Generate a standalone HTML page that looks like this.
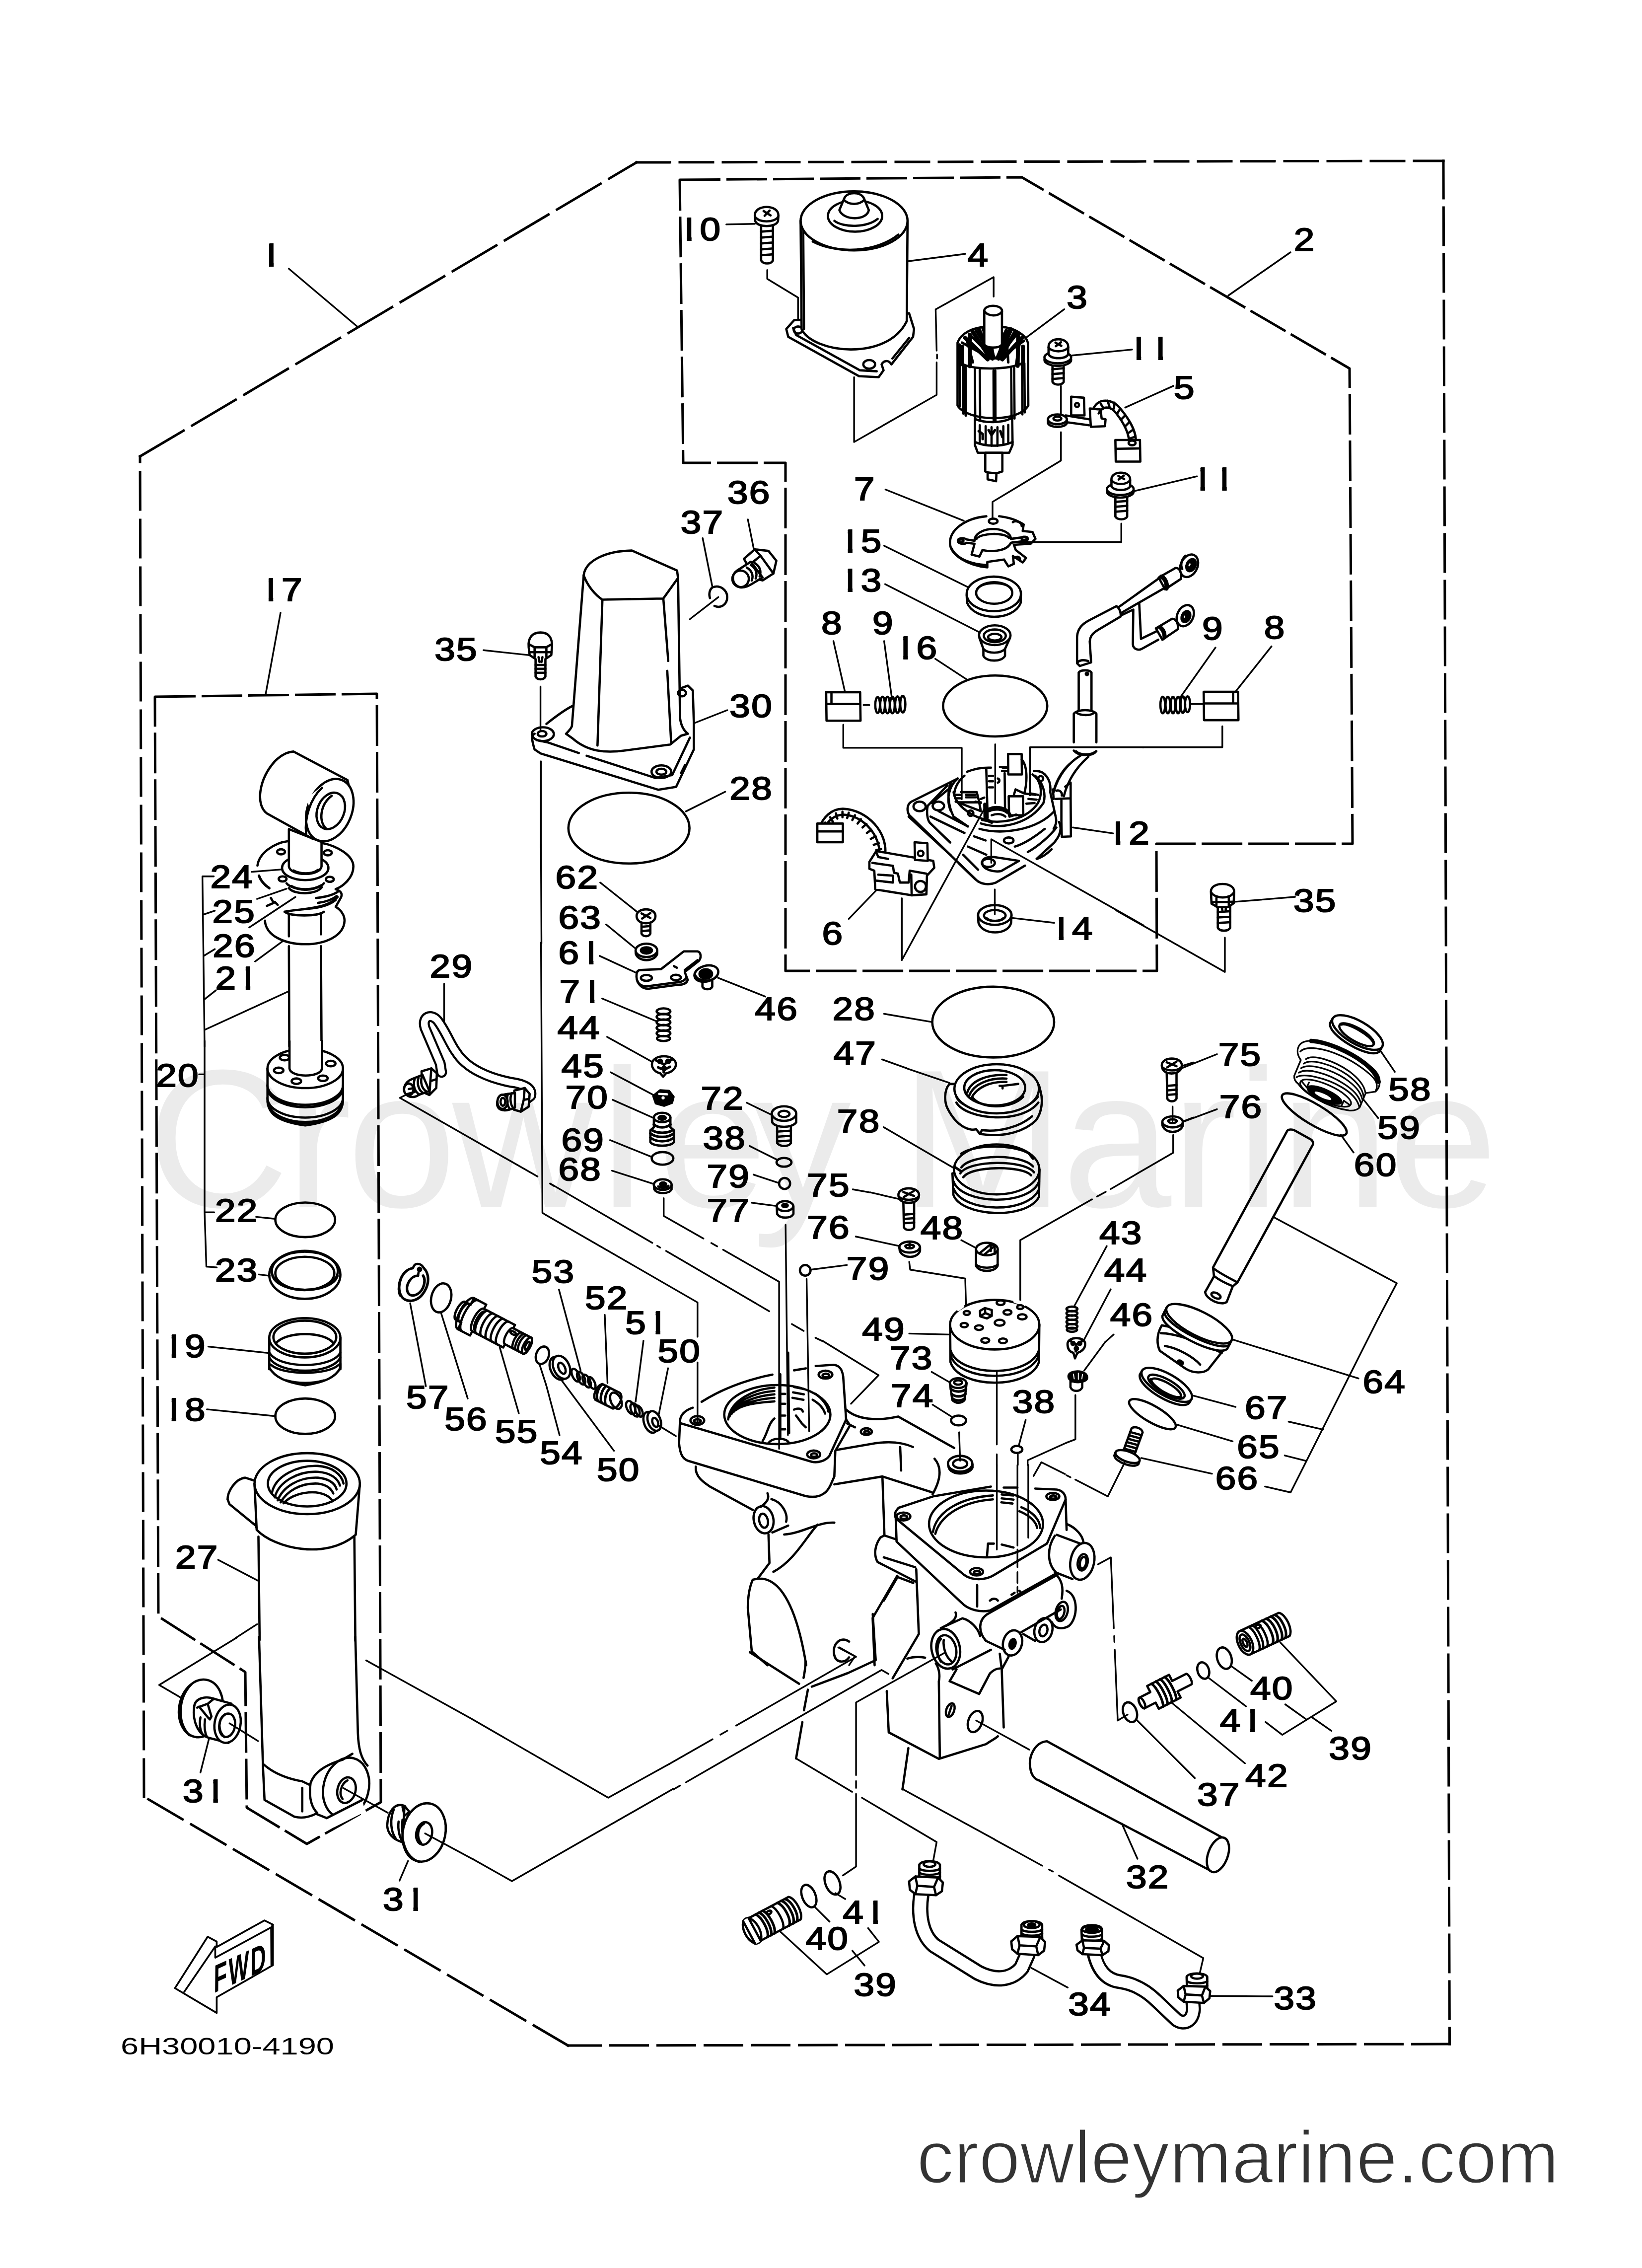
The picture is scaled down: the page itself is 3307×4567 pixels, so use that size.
<!DOCTYPE html>
<html><head><meta charset="utf-8"><title>Power Trim &amp; Tilt Assembly</title>
<style>
html,body{margin:0;padding:0;background:#fff}
svg{display:block}
.n{font-family:"Liberation Sans",sans-serif;fill:#000;stroke:#000;stroke-width:32;stroke-linejoin:miter}
.n text{vector-effect:none}
.w{fill:#fff}
.k{fill:#000}
.t{stroke-width:3.4}
.h{stroke-width:5.2}
.d{stroke-width:5;stroke-dasharray:104 17;stroke-linecap:butt}
*{vector-effect:non-scaling-stroke}
</style></head><body>
<svg width="3307" height="4567" viewBox="0 0 3307 4567">
<rect class="w" width="3307" height="4567" stroke="none"/>
<defs><clipPath id="c1"><rect x="236" y="-730" width="124" height="760"/></clipPath></defs>
<g fill="none" stroke="#000" stroke-width="4.6" stroke-linecap="round" stroke-linejoin="round">
<text x="1846" y="4396" font-family="Liberation Sans,sans-serif" font-size="150" fill="#333" stroke="#fff" stroke-width="3" textLength="1294" lengthAdjust="spacingAndGlyphs">crowleymarine.com</text>
<text x="243" y="4137" font-family="Liberation Sans,sans-serif" font-size="48" fill="#000" stroke="none" textLength="430" lengthAdjust="spacingAndGlyphs">6H30010-4190</text>
<path class="d" style="stroke-dasharray:102 20;stroke-linecap:square" d="M282,919 L1282,327"/>
<path class="d" style="stroke-dasharray:67 20;stroke-linecap:square" d="M1282,327 L2907,324"/>
<path class="d" style="stroke-dasharray:75 19;stroke-linecap:square" d="M2907,324 L2919.5,4116"/>
<path class="d" style="stroke-dasharray:75 20;stroke-linecap:square" d="M2919.5,4116 L1144,4119"/>
<path class="d" style="stroke-dasharray:80 20;stroke-linecap:square" d="M1144,4119 L290,3618"/>
<path class="d" style="stroke-dasharray:75 21;stroke-linecap:square" d="M290,3618 L282,919"/>
<polygon class="d" style="stroke-dasharray:82 12" points="312,1403 759,1397 767,3629 618,3713 497,3640 494,3367 319,3255"/>
<polygon class="d" style="stroke-dasharray:82 12" points="1369,362 2058,357 2718,742 2724,1699 2329,1699 2330,1955 1582,1955 1582,932 1376,932"/>
<path class="t" d="M953,3744 L1031,3788 L1356,3602 M953,3463 L1225,3620 L1348,3552"/>
<path class="t" d="M1089.5,1700 L1090.5,1900"/>
<g class="n" transform="translate(524.3,536) scale(0.07475,0.06500)" font-size="1000"><g transform="translate(0,0)"><text clip-path="url(#c1)">1</text></g></g>
<g class="n" transform="translate(2605.8,504.6) scale(0.07475,0.06500)" font-size="1000"><text x="0">2</text></g>
<g class="n" transform="translate(523.3,1209.5) scale(0.07475,0.06500)" font-size="1000"><g transform="translate(0,0)"><text clip-path="url(#c1)">1</text></g><text x="586">7</text></g>
<path class="t" d="M581.6,541 L720,658 M2599,508 L2474,595 M565,1234 L535,1398"/>

<g transform="translate(300,1450) scale(0.39586)" font-size="164.2">
<!-- bracket for 24/25/26/21 -->
<path class="t" d="M330,795 L272,795 L283,1660 M275,990 L335,970 M278,1200 L335,1165 M283,1420 L340,1375 M285,1575 L710,1380"/>
<g class="n" transform="translate(312,855) scale(0.18883,0.16420)" font-size="1000"><text x="0">2</text><text x="586">4</text></g>
<g class="n" transform="translate(322,1030) scale(0.18883,0.16420)" font-size="1000"><text x="0">2</text><text x="586">5</text></g>
<g class="n" transform="translate(324,1205) scale(0.18883,0.16420)" font-size="1000"><text x="0">2</text><text x="586">6</text></g>
<g class="n" transform="translate(337,1370) scale(0.18883,0.16420)" font-size="1000"><text x="0">2</text><g transform="translate(586,0)"><text clip-path="url(#c1)">1</text></g></g>
<path class="t" d="M522,772 L672,760 M550,910 L700,858 M510,1055 L745,900 M540,1228 L680,1125"/>
<!-- dust seal 21 -->
<path d="M590,1020 C600,1180 990,1180 995,1020 C995,990 975,965 950,950"/>
<!-- rod -->
<path d="M712,1150 L714,1660 M875,1150 L878,1660 M712,985 L712,1100 M875,985 L875,1090"/>
<!-- housing -->
<path d="M690,975 C720,1000 860,1000 890,975 M690,975 C760,960 900,965 960,900 M810,960 C870,955 920,940 950,915 M850,905 C900,900 940,890 965,870 M860,930 C900,925 930,915 955,895"/>
<path d="M950,860 C975,870 985,880 978,900 L950,950"/>
<!-- flange -->
<path d="M552,740 C560,680 630,625 712,615 M880,625 C960,640 1040,690 1040,745 C1040,800 990,845 950,860"/>
<path class="h" d="M560,792 C570,820 590,840 612,855"/>
<path d="M600,945 L635,930 L620,905 M640,925 L655,940"/>
<ellipse cx="672" cy="670" rx="20" ry="13"/><ellipse cx="910" cy="675" rx="20" ry="13"/><ellipse cx="680" cy="808" rx="20" ry="13"/><ellipse cx="920" cy="810" rx="20" ry="13"/>
<ellipse class="w" cx="795" cy="752" rx="118" ry="62"/>
<path d="M700,830 C730,870 860,870 890,830 M712,855 C740,890 850,890 880,850"/>
<path class="h" d="M725,845 C770,870 830,868 875,842"/>
<!-- neck -->
<path class="w" d="M712,555 L712,745 C720,795 870,795 878,745 L878,620 Z"/>
<path d="M735,765 C770,785 830,785 860,762"/>
<!-- clevis -->
<path class="w" d="M735,160 L1010,305 L1040,430 L835,605 L600,475 C540,430 560,300 640,210 C670,180 700,162 735,160 Z"/>
<ellipse class="w" cx="920" cy="458" rx="112" ry="165" transform="rotate(22 920 458)"/>
<path class="w" stroke="none" d="M800,400 L900,320 L860,560 Z"/>
<path d="M880,345 C820,400 790,500 800,580"/>
<ellipse cx="925" cy="462" rx="68" ry="96" transform="rotate(22 925 462)"/>
<path d="M905,555 C860,520 870,430 930,385"/>

</g>
<g transform="translate(300,2100) scale(0.39586)" font-size="164.2">
<!-- bracket 20 -->
<path class="t" d="M283,-10 L283,860 L292,1138 L345,1142 M255,160 L283,160 M288,862 L332,862"/>
<g class="n" transform="translate(36,222) scale(0.18883,0.16420)" font-size="1000"><text x="0">2</text><text x="586">0</text></g>
<g class="n" transform="translate(336,910) scale(0.18883,0.16420)" font-size="1000"><text x="0">2</text><text x="586">2</text></g>
<g class="n" transform="translate(336,1212) scale(0.18883,0.16420)" font-size="1000"><text x="0">2</text><text x="586">3</text></g>
<g class="n" transform="translate(71,1600) scale(0.18883,0.16420)" font-size="1000"><g transform="translate(0,0)"><text clip-path="url(#c1)">1</text></g><text x="586">9</text></g>
<path class="t" d="M545,885 L640,895 M560,1178 L615,1185 M302,1545 L610,1578"/>
<ellipse cx="795" cy="900" rx="152" ry="88"/>
<!-- ring 23 -->
<ellipse cx="793" cy="1180" rx="181" ry="122"/>
<ellipse cx="793" cy="1160" rx="168" ry="98"/>
<ellipse cx="793" cy="1172" rx="150" ry="84"/>
<path d="M628,1185 C660,1280 930,1280 960,1185"/>
<!-- part 19 -->
<path class="w" d="M612,1500 L612,1660 L974,1660 L974,1500 Z" stroke="none"/>
<path d="M612,1500 L612,1660 M974,1500 L974,1660"/>
<ellipse class="w" cx="793" cy="1500" rx="181" ry="100"/>
<ellipse cx="793" cy="1497" rx="160" ry="84"/>
<path d="M645,1530 C690,1465 900,1465 940,1530"/>
<path d="M612,1575 C660,1660 930,1660 974,1575"/>
<path d="M612,1600 C660,1690 930,1690 974,1600"/>
<!-- piston 20 -->
<path class="w" d="M603,130 L603,300 C610,360 650,400 795,420 C940,400 980,360 987,300 L987,130 Z"/>
<path d="M603,215 A192,100 0 0 0 987,215 M606,245 A192,100 0 0 0 984,245 M603,280 A192,100 0 0 0 987,280 M612,320 A186,100 0 0 0 978,320 M700,395 C760,410 830,410 890,395"/>
<ellipse class="w" cx="795" cy="130" rx="192" ry="100"/>
<path class="w" d="M715,-10 L715,130 C720,178 875,178 880,130 L880,-10"/>
<ellipse cx="690" cy="75" rx="24" ry="14"/><ellipse cx="660" cy="140" rx="24" ry="14"/><ellipse cx="750" cy="195" rx="24" ry="14"/><ellipse cx="885" cy="180" rx="24" ry="14"/><ellipse cx="925" cy="105" rx="24" ry="14"/>

</g>
<g transform="translate(300,2750) scale(0.39586)" font-size="164.2">
<!-- o-ring 18 -->
<ellipse cx="795" cy="257" rx="152" ry="90"/>
<path class="t" d="M295,222 L645,257"/>
<g class="n" transform="translate(71,280) scale(0.18883,0.16420)" font-size="1000"><g transform="translate(0,0)"><text clip-path="url(#c1)">1</text></g><text x="586">8</text></g>
<!-- cylinder 27 top -->
<path d="M537,585 L490,570 C440,575 400,640 400,680 L410,705 L545,815"/>
<path d="M572,760 C572,790 560,810 545,822"/>
<path class="w" d="M537,600 L548,835 C640,930 900,990 1052,860 L1073,600 Z"/>
<ellipse class="w" cx="805" cy="600" rx="268" ry="155"/>
<ellipse cx="805" cy="600" rx="200" ry="116"/>
<path d="M625,650 C640,560 760,505 860,510 C930,515 980,550 990,600"/>
<path d="M640,670 C660,590 760,535 860,540 C920,545 960,570 972,610"/>
<path d="M655,685 C680,620 760,565 860,570 C910,575 945,595 955,630"/>
<path d="M670,695 C700,640 770,595 860,600 C900,605 925,620 938,650"/>
<path d="M685,700 C720,660 790,640 850,645 C890,650 920,665 935,690"/>
<path d="M557,870 L563,1395"/>
<path d="M1045,870 L1050,1400"/>
<path class="t" d="M352,988 L557,1095"/>
<path class="t" d="M550,1315 L440,1386"/>
<g class="n" transform="translate(134,1030) scale(0.18883,0.16420)" font-size="1000"><text x="0">2</text><text x="586">7</text></g>
<!-- bottom of part 19 -->
<path d="M612,-10 L612,10 C640,60 700,85 795,100 C890,85 950,60 974,10 L974,-10 M620,-5 C680,50 910,50 966,-5 M700,75 C760,92 830,92 890,75"/>

</g>
<g transform="translate(300,3300) scale(0.39586)" font-size="164.2">
<!-- cylinder 27 bottom + lug -->
<path d="M560,-10 L580,650 L588,820 L740,905 C780,915 820,905 850,890 L905,912 L1085,820"/>
<path d="M585,640 C640,690 720,715 780,725 L815,742"/>
<path d="M780,758 L780,878"/>
<path d="M1050,-10 L1063,480 C1066,560 1080,610 1112,645"/>
<path d="M985,615 L1035,585"/>
<path d="M985,615 C900,640 840,680 822,735 C815,790 820,850 856,886"/>
<ellipse cx="1003" cy="758" rx="115" ry="155" transform="rotate(14 1003 758)"/>
<path class="w" stroke="none" d="M905,912 L1085,820 L1100,880 L940,960 Z"/>
<path d="M905,912 L1085,820"/>
<ellipse cx="1005" cy="770" rx="46" ry="66" transform="rotate(14 1005 770)"/>
<path d="M985,815 C965,790 975,740 1010,720"/>
<!-- left bushing -->
<ellipse class="w" cx="264" cy="354" rx="110" ry="148" transform="rotate(12 264 354)"/>
<path d="M215,232 C150,300 140,420 205,490"/>
<path class="w" d="M230,345 C235,300 290,290 330,305 L420,330 L405,530 L310,505 C250,490 220,420 230,345 Z"/>
<path d="M245,350 L300,330 L330,305 M255,345 L300,400 L310,410 L318,395 L300,335 M262,400 C255,440 262,470 275,490 M285,410 C280,450 285,480 295,500"/>
<ellipse class="w" cx="400" cy="432" rx="66" ry="98" transform="rotate(10 400 432)"/>
<ellipse cx="398" cy="440" rx="40" ry="60" transform="rotate(10 398 440)"/>
<path d="M385,500 C350,470 350,410 385,385"/>
<path class="t" d="M410,430 L555,520"/>
<path class="t" d="M262,680 L305,510"/>
<!-- right bushing -->
<path class="w" d="M1300,850 C1250,830 1215,880 1212,950 C1215,990 1240,1020 1290,1035 Z"/>
<path d="M1245,870 C1225,920 1230,980 1255,1015 M1290,855 L1300,900 L1325,880 L1300,850 M1270,930 C1265,970 1275,1010 1290,1030 M1290,920 C1285,960 1290,1000 1300,1030"/>
<ellipse class="w" cx="1400" cy="985" rx="108" ry="150" transform="rotate(12 1400 985)"/>
<path d="M1290,1010 C1300,1080 1330,1120 1375,1135"/>
<ellipse cx="1400" cy="990" rx="40" ry="58" transform="rotate(12 1400 990)"/>
<path d="M1385,1040 C1360,1010 1365,960 1400,940"/>
<path class="t" d="M990,760 L1215,885 M1405,990 L1650,1122"/>
<path class="t" d="M1275,1230 L1318,1130"/>
<path class="t" d="M445,-5 L52,235 L160,298"/>
<path class="t" d="M1105,110 L1650,412"/>
<g class="n" transform="translate(172,830) scale(0.18883,0.16420)" font-size="1000"><text x="0">3</text><g transform="translate(586,0)"><text clip-path="url(#c1)">1</text></g></g>
<g class="n" transform="translate(1190,1382) scale(0.18883,0.16420)" font-size="1000"><text x="0">3</text><g transform="translate(586,0)"><text clip-path="url(#c1)">1</text></g></g>

</g>
<g transform="translate(300,3850) scale(0.24361)" font-size="266.8">
<path class="w" style="stroke-width:3.6" d="M215,630 L485,205 L560,245 L560,290 L955,70 L1025,105 L1025,440 L560,705 L560,835 Z"/>
<path style="stroke-width:3.6" d="M292,660 L548,285 L548,378 L1010,128 L1012,438 M1010,128 L1025,105"/>
<text transform="matrix(0.55,-0.25,-0.01,1,535,672)" font-size="325" font-weight="bold" letter-spacing="22" font-family="Liberation Sans,sans-serif" fill="#000" stroke="none">FWD</text>

</g>
<g transform="translate(750,1900) scale(0.39586)" font-size="164.2">
<g class="n" transform="translate(292,172) scale(0.18883,0.16420)" font-size="1000"><text x="0">2</text><text x="586">9</text></g>
<path class="t" d="M365,205 L365,395 M180,765 L140,785 L840,1185 M905,1222 L925,1234 M858,-5 L865,1370 L880,1379"/>
<!-- pipe 29 -->
<path style="stroke-width:22" d="M352,655 L345,610 L268,430 C250,370 300,355 330,390 C370,440 400,520 425,550 C480,640 600,685 700,705 C780,715 815,740 805,775 L772,800"/>
<path style="stroke-width:13.5;stroke:#fff" d="M352,655 L345,610 L268,430 C250,370 300,355 330,390 C370,440 400,520 425,550 C480,640 600,685 700,705 C780,715 815,740 805,775 L772,800"/>
<!-- left fitting -->
<path class="w" d="M250,650 L300,635 L328,660 L325,735 L290,770 L255,755 Z"/>
<path d="M300,635 L295,700 L290,770 M295,700 L325,690"/>
<path class="w" d="M255,668 L200,690 C165,705 150,740 170,765 C185,785 215,785 235,770 L290,750 Z"/>
<path d="M215,690 C205,720 215,755 240,768 M235,682 C225,712 235,747 258,760 M252,675 C242,705 252,740 275,752"/>
<ellipse class="w" cx="185" cy="742" rx="24" ry="30"/>
<path d="M180,765 L215,755 L210,735 L185,740"/>
<!-- right fitting -->
<path class="w" d="M722,748 L775,735 L800,765 L795,830 L755,855 L720,845 Z"/>
<path d="M775,735 L770,795 L755,855 M770,795 L798,790"/>
<path class="w" d="M725,760 L670,768 C635,775 625,820 645,840 C660,852 690,850 725,835 Z"/>
<path d="M690,765 C680,790 685,825 700,842 M708,762 C698,790 703,822 718,838"/>
<ellipse class="w" cx="662" cy="805" rx="26" ry="36"/><ellipse cx="664" cy="805" rx="12" ry="20"/>

</g>
<g transform="translate(750,2450) scale(0.39586)" font-size="164.2">
<g class="n" transform="translate(172,975) scale(0.18883,0.16420)" font-size="1000"><text x="0">5</text><text x="586">7</text></g>
<g class="n" transform="translate(367,1085) scale(0.18883,0.16420)" font-size="1000"><text x="0">5</text><text x="586">6</text></g>
<g class="n" transform="translate(624,1150) scale(0.18883,0.16420)" font-size="1000"><text x="0">5</text><text x="586">5</text></g>
<g class="n" transform="translate(1142,1345) scale(0.18883,0.16420)" font-size="1000"><text x="0">5</text><text x="586">0</text></g>
<path class="t" d="M192,440 L272,862 M348,485 L485,925 M648,665 L745,1000 M850,750 L884,856"/>
<!-- clip 57 -->
<path class="h" d="M205,262 C150,270 120,350 145,400 C165,440 230,440 265,380 C290,340 290,290 262,262 M232,300 C195,300 165,350 180,385 C195,415 240,400 258,360 C268,335 268,315 258,300"/>
<path d="M175,275 C140,300 125,360 140,400 M205,262 L215,245 C230,235 250,240 262,262 M232,300 L238,265"/>
<circle cx="240" cy="268" r="8"/>
<ellipse cx="350" cy="413" rx="50" ry="75" transform="rotate(15 350 413)"/>
<ellipse cx="865" cy="705" rx="32" ry="46" transform="rotate(20 865 705)"/>

</g>
<g transform="translate(780,2520) scale(0.21315)" font-size="304.9">
<!-- valve 55 -->
<g transform="translate(690,560) rotate(27.6)">
<path class="w" d="M0,-95 L60,-95 L60,-165 L190,-165 L190,-120 L520,-120 L520,-85 L711,-85 A32,85 0 0 1 711,85 L520,85 L520,120 L190,120 L190,165 L60,165 L60,95 L0,95 A35,95 0 0 1 0,-95 Z"/>
<path d="M40,-95 A35,95 0 0 0 40,95 M60,-165 A60,165 0 0 0 60,165 M105,-165 A60,165 0 0 0 105,165 M190,-120 A44,120 0 0 0 190,120 M235,-120 A44,120 0 0 0 235,120 M290,-120 A44,120 0 0 0 290,120 M345,-120 A44,120 0 0 0 345,120 M400,-120 A44,120 0 0 0 400,120 M455,-120 A44,120 0 0 0 455,120 M520,-85 A32,85 0 0 0 520,85 M610,-85 A32,85 0 0 0 610,85 M640,-85 A32,85 0 0 0 640,85 M668,-85 A32,85 0 0 0 668,85"/>
<path d="M210,-100 A36,100 0 0 0 210,100"/>
<ellipse cx="711" cy="0" rx="32" ry="85"/><ellipse cx="714" cy="0" rx="16" ry="42"/>
<ellipse cx="540" cy="-45" rx="30" ry="14"/>
</g>

</g>
<g transform="translate(950,1050) scale(0.39586)" font-size="164.2">
<!-- cover 30 -->
<path class="w" d="M570,272 C580,200 680,150 815,148 L1045,250 L1050,290 L1060,1000 C1065,1040 1080,1065 1100,1080 L1065,1090 L1010,1135 L780,1165 C680,1180 590,1170 515,1105 L480,1080 C500,1060 508,1050 510,1040 Z"/>
<path d="M570,275 C590,330 630,375 665,398 L975,392 L1048,290 M665,398 L640,1140 M975,392 L1000,710 M995,760 L1015,1130"/>
<path d="M380,1030 C430,990 470,960 510,940"/>
<path d="M1060,850 L1100,835 L1125,860 L1130,1020"/>
<path d="M320,1080 C300,1090 308,1120 320,1160 L350,1180 L950,1365 L1040,1350 L1130,1160 L1130,1020"/>
<path d="M330,1112 L390,1125 L545,1178 M585,1192 L935,1305 L1020,1290 L1110,1100 M1065,1280 L1085,1240"/>
<ellipse cx="362" cy="1082" rx="56" ry="35"/><ellipse cx="358" cy="1080" rx="22" ry="14"/>
<ellipse cx="965" cy="1273" rx="50" ry="32"/><ellipse cx="965" cy="1273" rx="25" ry="15"/>
<ellipse cx="1070" cy="873" rx="20" ry="17"/>
<!-- bolt 35 -->
<path class="w" d="M290,640 C285,590 310,565 350,565 C390,565 412,590 408,640 L405,680 L375,700 L375,790 C365,808 335,808 325,790 L325,700 L295,680 Z"/>
<path d="M292,625 L320,640 L380,640 L406,625 M320,640 L320,690 M380,640 L380,690 M300,665 L400,665 M325,730 L375,730 M325,750 L375,750 M325,770 L375,770 M340,690 L345,715 M360,690 L355,715"/>
<path class="t" d="M350,840 L350,1065 M352,1220 L352,1660 M60,655 L290,680"/>
<g class="n" transform="translate(-189,707) scale(0.18883,0.16420)" font-size="1000"><text x="0">3</text><text x="586">5</text></g>
<!-- o-ring 37, bolt 36 -->
<path d="M1225,335 C1265,320 1300,350 1300,385 C1300,420 1270,445 1235,430 M1212,390 C1205,365 1212,345 1225,335"/>
<path class="t" d="M1175,85 L1225,335 M1110,497 L1255,385 M1405,-10 L1435,140"/>
<g class="n" transform="translate(1063,61) scale(0.18883,0.16420)" font-size="1000"><text x="0">3</text><text x="586">7</text></g>
<g class="n" transform="translate(1301,-91) scale(0.18883,0.16420)" font-size="1000"><text x="0">3</text><text x="586">6</text></g>
<path class="w" d="M1385,190 L1440,142 L1510,150 L1550,200 L1535,265 L1480,300 L1440,290 Z"/>
<path d="M1440,142 L1470,175 L1535,265 M1470,175 L1420,215"/>
<path class="w" d="M1420,205 L1350,250 C1320,270 1320,320 1365,335 C1400,340 1420,320 1480,285 Z"/>
<ellipse cx="1368" cy="292" rx="42" ry="42"/>
<path d="M1400,235 C1425,250 1435,275 1425,300 M1420,222 C1445,237 1455,262 1445,290 M1440,212 C1465,227 1475,252 1465,280"/>
<!-- labels 30 28 -->
<g class="n" transform="translate(1312,995) scale(0.18883,0.16420)" font-size="1000"><text x="0">3</text><text x="586">0</text></g>
<g class="n" transform="translate(1312,1415) scale(0.18883,0.16420)" font-size="1000"><text x="0">2</text><text x="586">8</text></g>
<path class="t" d="M1300,960 L1135,1025 M1290,1375 L1090,1475"/>
<ellipse cx="800" cy="1560" rx="308" ry="180"/>

</g>
<g transform="translate(1100,1700) scale(0.39586)" font-size="164.2">
<g class="n" transform="translate(47,225) scale(0.18883,0.16420)" font-size="1000"><text x="0">6</text><text x="586">2</text></g>
<g class="n" transform="translate(62,430) scale(0.18883,0.16420)" font-size="1000"><text x="0">6</text><text x="586">3</text></g>
<g class="n" transform="translate(62,610) scale(0.18883,0.16420)" font-size="1000"><text x="0">6</text><g transform="translate(586,0)"><text clip-path="url(#c1)">1</text></g></g>
<g class="n" transform="translate(67,805) scale(0.18883,0.16420)" font-size="1000"><text x="0">7</text><g transform="translate(586,0)"><text clip-path="url(#c1)">1</text></g></g>
<g class="n" transform="translate(57,990) scale(0.18883,0.16420)" font-size="1000"><text x="0">4</text><text x="586">4</text></g>
<g class="n" transform="translate(77,1185) scale(0.18883,0.16420)" font-size="1000"><text x="0">4</text><text x="586">5</text></g>
<g class="n" transform="translate(97,1345) scale(0.18883,0.16420)" font-size="1000"><text x="0">7</text><text x="586">0</text></g>
<g class="n" transform="translate(77,1560) scale(0.18883,0.16420)" font-size="1000"><text x="0">6</text><text x="586">9</text></g>
<g class="n" transform="translate(1062,895) scale(0.18883,0.16420)" font-size="1000"><text x="0">4</text><text x="586">6</text></g>
<g class="n" transform="translate(787,1350) scale(0.18883,0.16420)" font-size="1000"><text x="0">7</text><text x="586">2</text></g>
<g class="n" transform="translate(797,1550) scale(0.18883,0.16420)" font-size="1000"><text x="0">3</text><text x="586">8</text></g>
<path class="t" d="M275,195 L470,350 M305,408 L460,535 M272,568 L460,655 M285,785 L560,900 M310,980 L545,1110 M328,1160 L545,1275 M338,1300 L552,1395 M325,1505 L535,1590 M875,680 L1115,775 M1020,1315 L1150,1378 M1035,1535 L1175,1605"/>
<!-- screw 62 -->
<path class="w" d="M485,395 L485,455 C495,472 522,472 530,455 L530,395 Z"/>
<path d="M485,420 L530,416 M485,442 L530,438"/>
<path class="w" d="M460,365 C460,320 556,320 556,365 C556,385 540,402 508,402 C476,402 460,385 460,365 Z"/>
<path d="M485,352 L530,375 M530,350 L488,378"/>
<!-- washer 63 -->
<path d="M455,542 L456,558 C470,600 550,600 565,558 L565,540"/>
<ellipse class="w" cx="510" cy="540" rx="55" ry="34"/>
<ellipse class="k" cx="510" cy="540" rx="28" ry="16"/>
<!-- lever 61 -->
<path class="w" d="M460,660 C462,645 470,640 480,640 L585,635 L700,545 L770,545 C790,550 790,580 775,595 L705,650 L720,690 C715,710 690,715 670,715 L520,735 C480,735 455,700 460,660 Z"/>
<path d="M462,690 C470,720 500,725 520,722 L670,702 C690,700 705,695 712,680 M705,640 L770,590 M650,620 L665,628"/>
<ellipse cx="510" cy="680" rx="28" ry="15"/><ellipse cx="660" cy="678" rx="25" ry="14"/>
<!-- 46 upper -->
<path class="w" d="M795,690 L795,725 C805,742 835,742 845,725 L845,690 Z"/>
<ellipse class="w" cx="815" cy="658" rx="62" ry="40" transform="rotate(-15 815 658)"/>
<ellipse class="k" cx="812" cy="660" rx="32" ry="24"/>
<path d="M758,665 C770,700 840,705 870,670"/>
<!-- spring 71 -->
<ellipse cx="597" cy="850" rx="35" ry="15"/><ellipse cx="597" cy="878" rx="35" ry="15"/><ellipse cx="597" cy="906" rx="35" ry="15"/><ellipse cx="597" cy="934" rx="35" ry="15"/><ellipse cx="597" cy="962" rx="35" ry="15"/><ellipse cx="597" cy="988" rx="33" ry="13"/>
<!-- 44 -->
<path class="w" d="M538,1120 C538,1065 660,1065 660,1120 C660,1140 640,1160 610,1165 L595,1182 L580,1165 C555,1160 538,1140 538,1120 Z"/>
<path class="h" d="M560,1100 L600,1120 L640,1095 M600,1120 L598,1160 M570,1135 L585,1142 M615,1140 L630,1132"/>
<circle cx="580" cy="1105" r="9"/><circle cx="620" cy="1105" r="9"/><circle cx="600" cy="1140" r="9"/>
<!-- 45 -->
<path class="k" d="M545,1280 L580,1252 L625,1255 L648,1285 L640,1315 L600,1330 L558,1318 Z"/>
<circle class="w" cx="595" cy="1290" r="8" stroke="none"/><path stroke="#fff" d="M575,1270 L615,1272"/>
<!-- 70 -->
<path class="w" d="M548,1390 L548,1440 L530,1455 L530,1515 C545,1540 635,1540 650,1515 L650,1455 L632,1440 L632,1390 Z"/>
<ellipse class="w" cx="590" cy="1390" rx="42" ry="24"/><ellipse class="k" cx="590" cy="1392" rx="18" ry="10"/>
<path class="h" d="M548,1425 C570,1445 610,1445 632,1425 M530,1470 C560,1495 620,1495 650,1470 M530,1492 C560,1517 620,1517 650,1492 M540,1455 C565,1472 615,1472 642,1455"/>
<ellipse cx="592" cy="1598" rx="55" ry="32"/>
<!-- bolt 72 -->
<path class="w" d="M1175,1430 L1175,1520 C1190,1540 1232,1540 1245,1520 L1245,1430 Z"/>
<path d="M1175,1462 L1245,1457 M1175,1488 L1245,1483 M1175,1512 L1245,1507"/>
<path class="w" d="M1148,1370 L1150,1415 C1170,1445 1250,1445 1272,1415 L1272,1370 Z"/>
<ellipse class="w" cx="1210" cy="1370" rx="62" ry="37"/><ellipse cx="1210" cy="1372" rx="28" ry="16"/>
<ellipse cx="1210" cy="1618" rx="38" ry="22"/>

</g>
<g transform="translate(1100,2300) scale(0.39586)" font-size="164.2">
<g class="n" transform="translate(62,195) scale(0.18883,0.16420)" font-size="1000"><text x="0">6</text><text x="586">8</text></g>
<g class="n" transform="translate(817,230) scale(0.18883,0.16420)" font-size="1000"><text x="0">7</text><text x="586">9</text></g>
<g class="n" transform="translate(817,405) scale(0.18883,0.16420)" font-size="1000"><text x="0">7</text><text x="586">7</text></g>
<g class="n" transform="translate(1327,275) scale(0.18883,0.16420)" font-size="1000"><text x="0">7</text><text x="586">5</text></g>
<g class="n" transform="translate(1327,490) scale(0.18883,0.16420)" font-size="1000"><text x="0">7</text><text x="586">6</text></g>
<g class="n" transform="translate(-74,715) scale(0.18883,0.16420)" font-size="1000"><text x="0">5</text><text x="586">3</text></g>
<g class="n" transform="translate(197,850) scale(0.18883,0.16420)" font-size="1000"><text x="0">5</text><text x="586">2</text></g>
<g class="n" transform="translate(402,975) scale(0.18883,0.16420)" font-size="1000"><text x="0">5</text><g transform="translate(586,0)"><text clip-path="url(#c1)">1</text></g></g>
<g class="n" transform="translate(567,1120) scale(0.18883,0.16420)" font-size="1000"><text x="0">5</text><text x="586">0</text></g>
<g class="n" transform="translate(-32,1637) scale(0.18883,0.16420)" font-size="1000"><text x="0">5</text><text x="586">4</text></g>
<path class="t" d="M335,145 L545,212 M1055,165 L1185,208 M1045,308 L1175,325 M1560,240 L1650,256 M1575,480 L1650,496 M1350,648 L1530,625 M65,750 L175,1160 M298,878 L312,1225 M495,1010 L455,1320 M620,1150 L573,1385 M0,1235 L68,1490 M70,1200 L345,1570"/>
<path class="t" d="M598,285 L598,375 L800,490 M840,513 L870,530 M900,547 L1185,710 L1185,1560 M1218,420 L1230,1490 M1325,695 L1338,1470"/>
<path class="t" d="M20,210 L540,512 M565,527 L580,536 M610,553 L1135,860 M1250,925 L1310,960 M1370,995 L1406,1012 M-5,368 L770,815 L770,990 M770,1120 L770,1420"/>
<!-- 68 -->
<path class="w" d="M548,218 L550,240 C565,265 625,265 638,240 L638,218 Z"/>
<ellipse class="w" cx="593" cy="216" rx="45" ry="27"/><ellipse class="k" cx="595" cy="214" rx="16" ry="9"/>
<path d="M570,225 C585,235 610,235 622,222"/>
<circle cx="1213" cy="210" r="28"/>
<!-- 77 -->
<path class="w" d="M1173,325 L1175,365 C1190,390 1245,390 1258,365 L1258,325 Z"/>
<ellipse class="w" cx="1215" cy="325" rx="42" ry="25"/><ellipse class="k" cx="1215" cy="322" rx="14" ry="8"/>
<circle cx="1318" cy="652" r="27"/>
<!-- row 50 53 52 51 50 -->
<ellipse class="w" cx="62" cy="1150" rx="40" ry="62" transform="rotate(-25 62 1150)"/>
<ellipse class="w" cx="78" cy="1145" rx="40" ry="62" transform="rotate(-25 78 1145)"/>
<ellipse cx="80" cy="1150" rx="16" ry="30" transform="rotate(-25 80 1150)"/>
<ellipse cx="150" cy="1185" rx="17" ry="35" transform="rotate(-25 150 1185)"/><ellipse cx="178" cy="1200" rx="17" ry="35" transform="rotate(-25 178 1200)"/><ellipse cx="206" cy="1215" rx="17" ry="35" transform="rotate(-25 206 1215)"/><ellipse cx="232" cy="1225" rx="15" ry="32" transform="rotate(-25 232 1225)"/>
<path class="w" d="M285,1230 L375,1275 C395,1300 370,1350 340,1355 L250,1310 C235,1290 255,1240 285,1230 Z"/>
<ellipse cx="355" cy="1315" rx="26" ry="44" transform="rotate(-25 355 1315)"/>
<path class="h" d="M285,1232 C262,1250 252,1290 262,1315 M305,1240 C282,1260 272,1300 282,1325 M325,1252 C302,1272 295,1310 302,1335"/>
<ellipse cx="430" cy="1350" rx="20" ry="36" transform="rotate(-25 430 1350)"/><ellipse cx="452" cy="1362" rx="20" ry="36" transform="rotate(-25 452 1362)"/><ellipse cx="472" cy="1368" rx="16" ry="30" transform="rotate(-25 472 1368)"/>
<ellipse class="w" cx="530" cy="1425" rx="32" ry="55" transform="rotate(-20 530 1425)"/>
<ellipse class="w" cx="550" cy="1418" rx="32" ry="52" transform="rotate(-20 550 1418)"/>
<ellipse cx="555" cy="1425" rx="14" ry="24" transform="rotate(-20 555 1425)"/>
<path class="t" d="M570,1440 L660,1495"/>

</g>
<g transform="translate(1330,2700) scale(0.39586)" font-size="164.2">
<!-- main body left: reservoir flange -->
<path d="M100,405 C105,360 150,345 165,340 M210,310 C330,235 450,195 570,172 M680,150 L740,140 M790,128 L880,122 C915,125 925,150 930,180 L945,400 L860,585 C840,612 800,622 770,615 L105,420"/>
<path d="M100,405 L95,520 C100,580 115,600 140,610 L740,790 C790,800 840,790 865,735 L885,690 L890,560 L965,430 L945,400"/>
<ellipse cx="595" cy="375" rx="270" ry="150"/>
<path d="M345,400 C355,300 480,245 580,238 M352,385 C370,310 480,262 580,255 M362,372 C385,320 480,280 580,272 M372,362 C400,325 480,298 580,290 M385,352 C410,330 480,314 580,308 M680,235 L730,245 M675,262 L730,272 M672,290 L728,300 M790,270 C830,300 850,330 855,360 M775,300 C810,320 830,345 838,370"/>
<path d="M520,510 C545,470 550,420 580,395 M550,520 C570,490 640,490 655,520 M680,350 C700,340 720,345 725,360 M690,380 L720,420 L740,440 M610,170 L610,500 M650,60 L655,470 M615,270 L635,270 M615,320 L635,320 M615,380 L635,380 M615,450 L635,450"/>
<ellipse cx="188" cy="405" rx="35" ry="22"/><ellipse cx="188" cy="408" rx="18" ry="9"/>
<ellipse cx="840" cy="172" rx="35" ry="20"/><ellipse cx="842" cy="176" rx="17" ry="9"/>
<ellipse cx="780" cy="578" rx="33" ry="20"/><ellipse cx="782" cy="581" rx="16" ry="9"/>
<ellipse cx="1048" cy="462" rx="28" ry="17"/><ellipse cx="1050" cy="465" rx="13" ry="7"/>
<!-- bridge -->
<path d="M945,350 C1000,400 1100,410 1210,385 L1495,545 M895,555 L1100,520 C1180,510 1240,520 1285,540 M885,730 L1130,690 L1380,770 M1220,540 L1225,660 M1395,600 C1430,640 1430,700 1385,780 M950,420 L990,440"/>
<path d="M1465,632 L1467,645 C1480,685 1570,685 1588,645 L1588,628"/>
<ellipse cx="1525" cy="625" rx="62" ry="40"/><ellipse cx="1525" cy="625" rx="36" ry="22"/>
<!-- lower left body -->
<path d="M180,640 C175,690 220,720 250,740 L470,860"/>
<ellipse cx="525" cy="910" rx="50" ry="70" transform="rotate(-12 525 910)"/><ellipse cx="525" cy="915" rx="22" ry="36" transform="rotate(-12 525 915)"/>
<path d="M545,775 C555,800 545,820 510,845 M565,805 C620,820 650,880 640,920 M570,975 L650,940 M550,985 L555,1130 L495,1210 L470,1215 C450,1260 445,1320 445,1360 L465,1580 L545,1650 M630,985 C720,980 800,920 885,925 M800,935 C740,1000 680,1120 575,1175 M495,1210 C600,1200 690,1330 742,1650"/>
<path d="M1130,700 L1140,990 L1120,1000 C1090,1040 1085,1090 1105,1125 L1300,1225 M1140,990 L1200,1010 M1205,1195 L1080,1410 L1090,1650"/>
<path d="M960,1530 C920,1500 870,1540 885,1600 C895,1640 940,1640 960,1610"/>
<path class="t" d="M905,1560 L990,1605 L960,1650"/>
<path class="t" d="M825,0 L1110,175 L970,320"/>
<!-- 73 74 -->
<g class="n" transform="translate(1167,145) scale(0.18883,0.16420)" font-size="1000"><text x="0">7</text><text x="586">3</text></g>
<g class="n" transform="translate(1172,335) scale(0.18883,0.16420)" font-size="1000"><text x="0">7</text><text x="586">4</text></g>
<path class="t" d="M1380,158 L1470,210 M1385,325 L1480,385 M1520,465 L1525,610"/>
<path class="w" d="M1473,215 L1485,300 C1500,320 1535,320 1548,300 L1558,215 Z"/>
<path class="h" d="M1478,245 C1500,262 1535,262 1555,245 M1482,270 C1500,287 1535,287 1552,270 M1485,292 C1500,307 1535,307 1549,292"/>
<ellipse class="w" cx="1515" cy="215" rx="42" ry="25"/><ellipse cx="1515" cy="212" rx="20" ry="11"/>
<ellipse cx="1517" cy="405" rx="38" ry="25"/>

</g>
<g transform="translate(1350,330) scale(0.39586)" font-size="164.2">
<g class="n" transform="translate(40,388) scale(0.18883,0.16420)" font-size="1000"><g transform="translate(0,0)"><text clip-path="url(#c1)">1</text></g><text x="586">0</text></g>
<path class="t" d="M285,308 L430,305 M493,540 L493,585 L650,680 L650,840"/>
<!-- screw 10 -->
<path class="w" d="M462,310 L462,490 C470,512 515,512 522,490 L522,310 Z"/>
<path d="M462,345 L522,340 M462,375 L522,370 M462,405 L522,400 M462,435 L522,430 M462,465 L522,460"/>
<path class="w" d="M430,262 C430,205 550,205 550,262 L548,290 C540,325 440,325 432,290 Z"/>
<path d="M432,270 C450,300 530,300 548,270 M475,240 L510,262 M505,238 L480,264"/>
<!-- motor 4 flange -->
<path class="w" d="M630,795 L590,840 L600,880 L960,1080 L1060,1085 L1085,1050 L1075,1020 C1085,1000 1110,995 1125,1020 L1235,880 L1240,840 L1215,760 Z"/>
<path d="M625,835 L640,870 L965,1050 L1050,1055 M1130,990 L1215,885"/>
<ellipse cx="650" cy="845" rx="22" ry="18"/><ellipse cx="1012" cy="1020" rx="30" ry="22"/>
<!-- motor body -->
<path class="w" d="M663,290 L668,840 C720,960 1100,1010 1203,800 L1207,290 Z"/>
<path d="M676,300 L680,840"/>
<ellipse class="w" cx="935" cy="290" rx="272" ry="150"/>
<ellipse cx="940" cy="265" rx="138" ry="80"/>
<path class="w" d="M860,235 L885,175 C900,140 970,140 985,175 L1010,235 C1000,290 880,290 860,235 Z"/>
<path d="M885,185 C910,210 960,210 985,185 M835,290 C880,325 1000,325 1055,280 M725,395 C850,460 1050,450 1160,360"/>
<g class="n" transform="translate(1512,520) scale(0.18883,0.16420)" font-size="1000"><text x="0">4</text></g>
<path class="t" d="M1500,458 L1210,495 M935,1085 L935,1415 L1355,1175 L1355,1010 M1357,990 L1357,970 M1355,950 L1350,740 L1645,576 L1645,675"/>

</g>
<g transform="translate(1350,3250) scale(0.39586)" font-size="164.2">
<path d="M405,195 L655,355 M688,240 C688,270 683,300 678,325 M1030,0 L1045,235 L905,300 L720,370 M700,385 L680,490 M672,550 L640,735"/>
<path class="t" d="M860,170 L945,218 L335,568 M290,594 L255,614 M215,637 L-5,763"/>
<path class="t" d="M1110,305 L1075,285 L700,499 L80,856 M50,873 L15,893"/>
<path class="t" d="M1400,195 L945,450 L945,820 M945,850 L945,885 M945,915 L945,1285 L878,1330"/>
<path class="t" d="M640,735 L925,905 M975,935 L1355,1160 L1335,1270 M1180,890 L1650,1147"/>
<ellipse cx="825" cy="1368" rx="36" ry="62" transform="rotate(-22 825 1368)"/>
<ellipse cx="705" cy="1435" rx="34" ry="60" transform="rotate(-22 705 1435)"/>
<path class="t" d="M840,1420 L890,1450 M735,1490 L810,1565"/>
<g class="n" transform="translate(877,1575) scale(0.18883,0.16420)" font-size="1000"><text x="0">4</text><g transform="translate(586,0)"><text clip-path="url(#c1)">1</text></g></g>

</g>
<g transform="translate(1400,3750) scale(0.39586)" font-size="164.2">
<g class="n" transform="translate(562,445) scale(0.18883,0.16420)" font-size="1000"><text x="0">4</text><text x="586">0</text></g>
<g class="n" transform="translate(807,680) scale(0.18883,0.16420)" font-size="1000"><text x="0">3</text><text x="586">9</text></g>
<path class="t" d="M430,350 L670,570 L935,405 L880,335 M800,450 L862,525"/>
<g transform="rotate(-28 400 290)">
<path class="w" d="M280,225 L520,225 C548,245 548,335 520,355 L280,355 Z"/>
<path class="h" d="M455,225 C480,250 480,330 455,355 M478,225 C503,250 503,330 478,355 M500,227 C525,250 525,330 500,353 M350,225 C372,250 372,330 350,355 M370,225 C392,250 392,330 370,355 M330,225 C352,250 352,330 330,355"/>
<path d="M420,225 C442,250 442,330 420,355"/>
<ellipse cx="395" cy="248" rx="13" ry="8"/>
<ellipse class="w" cx="275" cy="290" rx="38" ry="70"/>
<path class="w" d="M262,222 L262,358 L288,358 L288,222 Z" stroke="none"/>
<path d="M258,225 L258,355 M290,223 L290,357"/>
</g>

</g>
<g transform="translate(1650,1000) scale(0.39586)" font-size="164.2">
<g class="n" transform="translate(177,18) scale(0.18883,0.16420)" font-size="1000"><text x="0">7</text></g>
<path class="t" d="M337,-36 L735,123"/>
<!-- plate 7 -->
<path d="M850,100 C740,110 665,170 665,235 C665,300 760,350 855,360 L855,332 L940,320 L962,355 L990,342 L985,302 L1035,335 L1052,312 L1000,272 L990,245 L1075,240 L1100,215 L1085,180 L1035,175 L1040,142 C1000,115 960,105 915,100"/>
<path d="M672,262 C700,320 780,345 850,348 M985,130 C1000,120 1030,130 1030,150 M995,310 C1010,300 1025,310 1020,325"/>
<path d="M790,225 C790,180 850,165 885,165 C930,165 975,185 975,215 L1050,205 C1065,205 1065,225 1050,225 L975,235 C960,270 900,285 830,272 L815,305 L775,295 L790,240 L750,235 C735,245 705,240 705,225 C705,210 735,208 750,218 Z"/>
<path d="M800,215 C820,185 940,180 965,210"/>
<ellipse cx="885" cy="125" rx="22" ry="13"/>
<ellipse cx="1042" cy="212" rx="14" ry="8"/><ellipse cx="722" cy="225" rx="12" ry="7"/>
<!-- seal 15 -->
<g class="n" transform="translate(101,283) scale(0.18883,0.16420)" font-size="1000"><g transform="translate(0,0)"><text clip-path="url(#c1)">1</text></g><text x="586">5</text></g>
<path class="t" d="M330,250 L755,460"/>
<path d="M750,500 L752,540 C790,635 990,635 1025,540 L1025,495"/>
<ellipse class="w" cx="888" cy="495" rx="138" ry="88"/>
<ellipse cx="890" cy="490" rx="92" ry="55"/>
<path d="M805,470 C830,430 950,430 978,470"/>
<!-- bushing 13 -->
<g class="n" transform="translate(101,483) scale(0.18883,0.16420)" font-size="1000"><g transform="translate(0,0)"><text clip-path="url(#c1)">1</text></g><text x="586">3</text></g>
<path class="t" d="M335,445 L815,690"/>
<path class="w" d="M815,720 L835,775 L835,810 C850,842 930,842 945,810 L945,775 L970,720 Z"/>
<path d="M835,775 C860,800 920,800 945,775"/>
<ellipse class="w" cx="893" cy="705" rx="80" ry="50"/>
<ellipse cx="893" cy="708" rx="56" ry="32"/><ellipse cx="893" cy="715" rx="34" ry="17"/>
<!-- 8, 9 -->
<g class="n" transform="translate(10,700) scale(0.18883,0.16420)" font-size="1000"><text x="0">8</text></g>
<g class="n" transform="translate(270,700) scale(0.18883,0.16420)" font-size="1000"><text x="0">9</text></g>
<path class="t" d="M72,735 L130,990 M330,735 L370,1030 M225,1060 L255,1060"/>
<path d="M35,995 L208,995 L210,1140 L37,1140 Z M35,1055 L208,1055 M62,1000 L62,1055"/>
<ellipse cx="297" cy="1060" rx="12" ry="40"/><ellipse cx="322" cy="1060" rx="12" ry="42"/><ellipse cx="347" cy="1060" rx="12" ry="42"/><ellipse cx="372" cy="1060" rx="12" ry="42"/><ellipse cx="398" cy="1058" rx="12" ry="42"/><ellipse cx="425" cy="1056" rx="13" ry="42"/>
<!-- 16 -->
<g class="n" transform="translate(383,825) scale(0.18883,0.16420)" font-size="1000"><g transform="translate(0,0)"><text clip-path="url(#c1)">1</text></g><text x="586">6</text></g>
<path class="t" d="M590,825 L750,930"/>
<ellipse cx="895" cy="1065" rx="265" ry="155"/>
<path class="t" d="M122,1160 L122,1278 L725,1278 L725,1540 M895,1260 L895,1560 M1650,1275 L1072,1275 L1072,1520"/>
<!-- harness lower -->
<path d="M1320,1090 L1320,895 C1330,880 1375,880 1385,895 L1385,1090"/>
<path class="w" d="M1295,1250 L1295,1105 C1310,1080 1395,1080 1410,1105 L1410,1250"/>
<path d="M1310,1100 C1330,1115 1380,1115 1398,1100 M1295,1292 C1320,1322 1390,1322 1410,1295"/>
<circle cx="1362" cy="902" r="6"/>

</g>
<g transform="translate(1650,1500) scale(0.39586)" font-size="164.2">
<path class="t" d="M1495,450 L1290,420 M848,310 L420,1095 L420,780 M875,600 L875,480 L1650,918 M893,735 L893,860"/>
<!-- seal 14 -->
<path d="M808,868 L810,905 C830,970 960,970 976,905 L978,865"/>
<ellipse class="w" cx="893" cy="865" rx="85" ry="50"/><ellipse cx="893" cy="868" rx="55" ry="28"/><path d="M850,880 C870,900 920,900 938,880"/>
<path class="t" d="M893,800 L893,862 M1195,905 L980,880"/>
<g class="n" transform="translate(1175,990) scale(0.18883,0.16420)" font-size="1000"><g transform="translate(0,0)"><text clip-path="url(#c1)">1</text></g><text x="586">4</text></g>
<!-- brush holder 6 -->
<path d="M335,560 C350,450 250,330 120,325 C60,325 20,370 0,420 M305,560 C315,470 230,360 125,355 C75,355 45,385 25,425"/>
<path d="M30,395 L50,415 M55,368 L70,392 M85,348 L92,375 M118,340 L118,368 M150,345 L142,372 M182,358 L168,382 M212,378 L195,400 M240,402 L220,420 M265,432 L242,448 M287,465 L262,478 M303,500 L277,508 M315,530 L290,535"/>
<path class="w" d="M-10,400 L120,400 L120,495 L-10,495 Z"/><path d="M-10,440 L120,440"/>
<path class="w" d="M255,595 L290,540 L580,590 L585,625 L548,665 L545,760 L470,765 L285,735 L280,640 L255,630 Z"/>
<path d="M270,600 L375,615 L380,650 L400,655 L410,700 L455,700 L460,640 L545,655 M285,690 L375,700 L375,665 L300,660 M470,765 L468,660 M290,545 L300,570 L350,580"/>
<path class="w" d="M485,495 L550,500 L552,590 L487,585 Z"/><circle cx="516" cy="552" r="14"/>
<circle cx="515" cy="720" r="28"/>
<g class="n" transform="translate(14,1015) scale(0.18883,0.16420)" font-size="1000"><text x="0">6</text></g>
<path class="t" d="M150,885 L290,740"/>
<!-- 28 lower -->
<g class="n" transform="translate(67,1400) scale(0.18883,0.16420)" font-size="1000"><text x="0">2</text><text x="586">8</text></g>
<path class="t" d="M330,1368 L575,1410 M320,1600 L445,1645"/>
<ellipse cx="885" cy="1410" rx="310" ry="180"/>
<g class="n" transform="translate(72,1625) scale(0.18883,0.16420)" font-size="1000"><text x="0">4</text><text x="586">7</text></g>

</g>
<g transform="translate(1750,2050) scale(0.39586)" font-size="164.2">
<path class="t" d="M192,256 L410,330 M75,555 L435,765 M8,887 L150,920 M8,1128 L155,1160 M205,1605 L415,1610 M470,1130 L555,1175 M1210,1160 L1045,1465 M1230,1380 L1090,1645 M1245,1610 L1200,1650 M1590,245 L1650,226 M1600,525 L1650,506"/>
<g class="n" transform="translate(-162,581) scale(0.18883,0.16420)" font-size="1000"><text x="0">7</text><text x="586">8</text></g>
<g class="n" transform="translate(-114,1331) scale(0.18883,0.16420)" font-size="1000"><text x="0">7</text><text x="586">9</text></g>
<g class="n" transform="translate(-35,1640) scale(0.18883,0.16420)" font-size="1000"><text x="0">4</text><text x="586">9</text></g>
<g class="n" transform="translate(262,1125) scale(0.18883,0.16420)" font-size="1000"><text x="0">4</text><text x="586">8</text></g>
<g class="n" transform="translate(1172,1150) scale(0.18883,0.16420)" font-size="1000"><text x="0">4</text><text x="586">3</text></g>
<g class="n" transform="translate(1197,1340) scale(0.18883,0.16420)" font-size="1000"><text x="0">4</text><text x="586">4</text></g>
<g class="n" transform="translate(1227,1565) scale(0.18883,0.16420)" font-size="1000"><text x="0">4</text><text x="586">6</text></g>
<!-- 47 -->
<path class="w" d="M410,335 C380,370 385,430 400,460 C450,560 520,575 545,565 L565,590 C700,610 800,570 850,520 C880,480 885,420 875,380 L865,340 Z"/>
<path d="M440,360 L445,400 C480,490 780,510 860,400 M565,590 L575,570 C650,580 760,560 830,500 M445,430 C500,520 780,540 862,430"/>
<ellipse class="w" cx="650" cy="360" rx="215" ry="125"/>
<ellipse cx="640" cy="355" rx="155" ry="90"/>
<path d="M500,380 C520,310 620,285 700,290 M510,395 C535,330 620,303 700,308 M520,410 C548,350 620,322 700,325 M665,345 L680,345 L680,358 M680,345 L760,335 M525,400 C560,460 720,470 785,400"/>
<!-- 78 -->
<path class="w" d="M425,790 L430,900 C470,1010 800,1030 865,910 L868,770 Z"/>
<path d="M430,830 C470,950 820,960 866,830 M432,870 C480,990 810,1000 866,870"/>
<ellipse class="w" cx="650" cy="770" rx="217" ry="127"/>
<path d="M470,690 C540,640 760,640 830,700 M470,760 C520,690 780,690 835,755 M465,790 C510,720 790,720 840,785 M480,810 C520,750 780,750 825,800"/>
<path class="h" d="M815,690 L835,715 M440,760 L470,780"/>
<!-- screw 75 left -->
<path class="w" d="M175,925 L178,1065 C188,1082 220,1082 230,1065 L230,925 Z"/>
<path d="M178,1000 L230,996 M178,1022 L230,1018 M178,1044 L230,1040"/>
<path class="w" d="M150,900 C150,855 255,855 255,900 C255,925 235,940 203,940 C170,940 150,925 150,900 Z"/>
<path d="M175,885 L230,905 M228,880 L178,910 M152,910 C180,930 230,930 254,908"/>
<!-- washer 76 left -->
<path d="M155,1168 L157,1185 C175,1225 245,1225 260,1185 L260,1165"/>
<ellipse class="w" cx="207" cy="1165" rx="52" ry="28"/>
<path d="M185,1160 C190,1150 225,1150 230,1160 C225,1175 190,1175 185,1160 M207,1145 L207,1165"/>
<path class="t" d="M205,1240 L210,1280 L490,1325 L495,1495"/>
<!-- 48 -->
<path class="w" d="M545,1178 L545,1260 C560,1295 640,1295 655,1260 L655,1175 Z"/>
<path d="M545,1255 C570,1275 630,1275 655,1255"/>
<ellipse class="w" cx="600" cy="1175" rx="55" ry="32"/>
<path d="M565,1195 L620,1150 L640,1158 L588,1203 M620,1150 L620,1185 M640,1160 L640,1200"/>
<!-- screw 75 right, washer 76 right -->
<path class="w" d="M1515,270 L1518,410 C1528,428 1555,428 1565,410 L1565,270 Z"/>
<path d="M1518,345 L1565,341 M1518,368 L1565,364 M1518,391 L1565,387"/>
<path class="w" d="M1490,240 C1490,195 1592,195 1592,240 C1592,265 1572,282 1540,282 C1508,282 1490,265 1490,240 Z"/>
<path d="M1515,225 L1565,245 M1565,222 L1518,250 M1492,250 C1520,272 1565,272 1590,250"/>
<path d="M1492,532 L1494,548 C1510,590 1580,590 1597,548 L1597,528"/>
<ellipse class="w" cx="1545" cy="528" rx="52" ry="28"/>
<path d="M1522,523 C1527,513 1562,513 1567,523 C1562,538 1527,538 1522,523"/>
<path class="t" d="M1545,450 L1545,525 M1548,595 L1548,685 L1230,870 M1205,884 L1160,908 M1135,922 L770,1130 L770,1470"/>
<!-- spring 43 -->
<ellipse cx="1033" cy="1480" rx="28" ry="12"/><ellipse cx="1033" cy="1502" rx="28" ry="12"/><ellipse cx="1033" cy="1524" rx="28" ry="12"/><ellipse cx="1033" cy="1546" rx="28" ry="12"/><ellipse cx="1033" cy="1568" rx="28" ry="12"/><ellipse cx="1033" cy="1586" rx="26" ry="10"/>
<!-- 49 -->
<path class="w" d="M413,1560 L415,1750 C460,1890 820,1890 865,1750 L867,1560 Z"/>
<path d="M415,1690 C460,1830 820,1830 865,1690 M415,1715 C460,1855 820,1855 865,1715"/>
<ellipse class="w" cx="640" cy="1560" rx="227" ry="126"/>
<path stroke="#fff" style="stroke-width:8" d="M455,1480 L475,1465 M745,1440 L790,1455"/>
<ellipse cx="670" cy="1448" rx="20" ry="12"/><ellipse cx="498" cy="1500" rx="16" ry="10"/><ellipse cx="770" cy="1470" rx="16" ry="10"/><ellipse cx="705" cy="1497" rx="20" ry="12"/><ellipse cx="780" cy="1520" rx="22" ry="13"/><ellipse cx="665" cy="1550" rx="25" ry="15"/><ellipse cx="485" cy="1562" rx="18" ry="11"/><ellipse cx="560" cy="1575" rx="20" ry="12"/><ellipse cx="592" cy="1640" rx="20" ry="12"/><ellipse cx="682" cy="1642" rx="20" ry="12"/>
<path d="M565,1490 L590,1475 L625,1485 L625,1515 L600,1528 L567,1518 Z M590,1475 L592,1500 L567,1518 M592,1500 L625,1515"/>

</g>
<g transform="translate(1780,2950) scale(0.39586)" font-size="164.2">
<!-- valve body flange -->
<path d="M65,275 C50,255 55,240 75,218 L250,160 L545,110 M610,115 L680,115 M770,120 L880,125 C910,130 925,150 925,175 L830,400 L560,560 C520,585 450,590 410,560 L65,275"/>
<path d="M60,250 L65,390 L395,700 C430,740 500,750 540,740 L880,550 M925,175 L930,330 M475,610 L475,720"/>
<ellipse cx="520" cy="300" rx="290" ry="170"/>
<path d="M250,340 C270,230 400,165 555,155 M262,350 C290,250 410,185 555,175 M600,150 L660,155 M600,170 L660,176 M598,190 L655,196 M700,215 C760,240 795,280 795,320 M690,235 C745,258 775,290 780,320 M525,465 L530,400 L560,400 M600,405 L660,420"/>
<ellipse cx="100" cy="262" rx="35" ry="20"/><ellipse cx="102" cy="265" rx="17" ry="9"/>
<ellipse cx="860" cy="160" rx="33" ry="18"/><ellipse cx="862" cy="163" rx="16" ry="8"/>
<ellipse cx="472" cy="543" rx="33" ry="19"/><ellipse cx="474" cy="546" rx="16" ry="8"/>
<path class="t" d="M575,0 L575,430 M680,0 L680,410 M735,0 L735,370 M680,430 L680,520 M680,545 L680,600 M680,620 L680,650"/>
<path d="M540,690 C555,675 575,680 580,690 M650,660 L665,650 M690,640 L705,655"/>
<!-- right port -->
<path d="M880,355 L1000,400 M870,545 L960,580 M870,360 C830,420 830,500 875,545 M930,300 C980,320 1010,360 1015,390"/>
<ellipse cx="1010" cy="490" rx="60" ry="95" transform="rotate(12 1010 490)"/>
<ellipse cx="1012" cy="495" rx="25" ry="42" transform="rotate(12 1012 495)"/><ellipse cx="1014" cy="497" rx="16" ry="30" transform="rotate(12 1014 497)"/>
<!-- bosses -->
<path d="M525,760 L880,560 C905,590 915,620 905,680 M525,760 C480,790 480,850 520,895 L615,940 M700,850 L900,735 M710,860 L770,895 M590,960 L600,1040 L610,1335 M635,975 L600,1040"/>
<ellipse cx="655" cy="905" rx="48" ry="65" transform="rotate(15 655 905)"/><ellipse class="k" cx="655" cy="910" rx="15" ry="25" transform="rotate(15 655 910)"/>
<ellipse cx="812" cy="840" rx="45" ry="62" transform="rotate(15 812 840)"/><ellipse cx="812" cy="842" rx="20" ry="30" transform="rotate(15 812 842)"/>
<path d="M930,640 C990,660 990,780 940,820 C900,840 870,830 855,800"/>
<ellipse cx="905" cy="745" rx="30" ry="50" transform="rotate(15 905 745)"/><ellipse cx="900" cy="750" rx="18" ry="34" transform="rotate(15 900 750)"/>
<!-- left port -->
<path d="M290,830 L400,780 C440,790 480,830 490,870 M350,1040 L545,940 M365,750 C375,780 350,800 300,825"/>
<ellipse cx="315" cy="935" rx="72" ry="102" transform="rotate(-12 315 935)"/>
<ellipse cx="318" cy="940" rx="50" ry="75" transform="rotate(-12 318 940)"/>
<path d="M290,1000 C265,960 270,910 290,885 M345,1000 C315,975 300,930 305,890"/>
<!-- column -->
<path d="M165,530 L178,860 L45,1085 M15,1150 L25,1360 L280,1495 L520,1420 C550,1400 570,1390 580,1380 M265,1010 C285,1040 285,1080 280,1100 L285,1490 M335,1100 L370,1040 M335,1100 L485,1165 L540,1060 C555,1045 575,1035 590,1035 M120,985 C150,975 180,975 210,980 M160,520 L0,470 M150,600 L70,570 L0,690 M125,1440 L95,1650"/>
<ellipse cx="338" cy="1247" rx="20" ry="36" transform="rotate(20 338 1247)"/><path d="M330,1270 L345,1225"/>
<ellipse cx="465" cy="1305" rx="35" ry="56" transform="rotate(20 465 1305)"/>
<path class="t" d="M470,1300 L740,1448"/>
<path class="t" d="M1090,505 L1155,470 L1170,830 M1172,870 L1173,900 M1175,940 L1190,1300"/>
<!-- pin 32 -->
<path class="w" d="M830,1405 L1732,1901 L1652,2058 L790,1605 C770,1600 750,1580 745,1540 C735,1480 770,1410 830,1405 Z"/>
<ellipse class="w" cx="1700" cy="1983" rx="50" ry="92" transform="rotate(20 1700 1983)"/>

</g>
<g transform="translate(1800,1480) scale(0.27406)" font-size="237.2">
<!-- base 12 -->
<path d="M470,320 L130,490 C95,510 95,560 115,590 L600,1060 C640,1100 700,1105 750,1085 L965,960 M1050,910 L1180,790 C1230,730 1235,680 1215,640"/>
<path d="M395,370 L250,520 C240,560 245,620 265,645 L415,790 M280,500 L400,400 M270,600 L520,720 M330,560 L545,672 M110,600 L420,885 M480,945 L600,1060 M510,880 L620,990 M545,820 L680,880 M590,745 L675,775 M890,820 C960,800 1050,740 1110,690 M985,860 C1060,820 1150,740 1195,680 M1055,910 C1100,895 1130,870 1160,840"/>
<ellipse cx="190" cy="525" rx="45" ry="35"/><ellipse cx="328" cy="522" rx="42" ry="32"/><ellipse cx="845" cy="775" rx="35" ry="22"/>
<path d="M650,940 C650,900 700,890 760,900 L920,925 L790,1000 C740,1010 650,990 650,940 Z"/><ellipse cx="695" cy="940" rx="48" ry="30"/>
<!-- housing -->
<path d="M470,320 C400,380 385,480 420,560 M420,350 C390,420 400,520 440,600 L545,672 M540,270 C600,245 660,238 715,240 M780,235 L830,238 M1030,265 C1110,255 1160,330 1150,420 L1190,600 C1200,640 1190,660 1175,690 M640,650 C800,700 1000,650 1100,500 C1120,440 1100,350 1040,300 M630,690 C800,735 1050,700 1180,560 M1020,290 C1080,330 1100,420 1060,500 C980,620 800,660 650,625"/>
<path d="M440,420 C450,500 540,590 680,625 M520,300 C480,330 450,380 445,430 M455,440 L490,440 M450,465 L490,465 M640,470 L665,460 M600,490 L640,500"/>
<path d="M495,420 L610,420 L625,480 L640,560 L470,495 L455,490 M530,440 L600,440 M530,458 L605,458 M470,495 L640,495"/>
<circle cx="565" cy="575" r="20"/><circle cx="1080" cy="320" r="18"/>
<path d="M840,140 L940,140 L942,290 L842,290 Z M845,450 L950,450 L952,590 L847,590 Z M940,180 C980,220 985,330 960,430 M895,400 L960,430 L1040,440 M895,400 L880,450 M800,240 L840,240 M795,265 L840,265 M815,280 L818,560 M680,250 L690,610 M700,300 L730,300 M700,340 L730,340 M700,385 L730,385 M765,320 C780,325 780,345 765,350 M1005,430 L1060,440 M990,470 L1050,475 M975,505 L1035,500 M700,560 C740,540 800,545 830,570 M720,590 C760,575 800,580 820,600 M850,600 L900,585 L940,600"/>
<path style="stroke-width:7" d="M670,510 L672,620 L720,640 M700,545 C760,520 830,540 850,580"/>
<!-- connector + wires -->
<path d="M1190,470 L1300,465 L1302,745 L1235,748 L1232,640 M1232,480 L1232,640 M1170,400 L1175,470 M1300,465 L1300,350 L1260,380"/>
<path d="M1340,120 C1370,150 1450,150 1485,120 M1375,150 C1290,200 1210,290 1175,420 M1430,160 C1340,240 1280,330 1250,450 M1290,215 C1240,260 1200,330 1180,395 M1195,410 C1215,400 1240,420 1235,445"/>

</g>
<g transform="translate(1800,3650) scale(0.39586)" font-size="164.2">
<g class="n" transform="translate(1182,385) scale(0.18883,0.16420)" font-size="1000"><text x="0">3</text><text x="586">2</text></g>
<g class="n" transform="translate(887,1030) scale(0.18883,0.16420)" font-size="1000"><text x="0">3</text><text x="586">4</text></g>
<path class="t" d="M1160,55 L1240,235 M700,790 L885,890 M513,137 L755,270 M790,290 L810,300 M840,320 L1575,740 L1555,825"/>
<!-- pipe 34 -->
<path style="stroke-width:33" d="M140,420 C125,520 140,620 205,675 L430,815 C520,860 600,850 650,790 L680,722"/>
<path style="stroke-width:24;stroke:#fff" d="M140,415 C125,520 140,620 205,675 L430,815 C520,860 600,850 650,790 L682,718"/>
<path class="w" d="M130,265 L130,340 L235,340 L235,265 C225,240 140,240 130,265 Z"/>
<path d="M130,285 C150,300 215,300 235,285 M130,305 C150,320 215,320 235,305 M130,325 C150,340 215,340 235,325"/>
<ellipse cx="182" cy="262" rx="30" ry="14"/>
<path class="w" d="M78,350 L110,325 L225,330 L250,355 L245,400 L215,420 L110,415 L82,392 Z"/>
<path d="M110,325 L120,372 L110,415 M120,372 L205,378 L215,420 M205,378 L225,332"/>
<path class="w" d="M650,570 L650,645 L755,645 L755,570 C745,545 660,545 650,570 Z"/>
<path d="M650,595 C670,610 735,610 755,595 M650,615 C670,630 735,630 755,615 M650,635 C670,650 735,650 755,635"/>
<ellipse cx="702" cy="570" rx="40" ry="18"/><ellipse class="k" cx="702" cy="572" rx="18" ry="8"/>
<path class="w" d="M598,655 L630,628 L745,632 L770,658 L765,702 L735,725 L630,718 L602,695 Z"/>
<path d="M630,628 L640,675 L630,718 M640,675 L725,680 L735,725 M725,680 L745,634"/>
<!-- pipe 33 -->
<path style="stroke-width:30" d="M1020,720 C1040,800 1080,850 1150,860 C1220,870 1280,900 1340,960 L1440,1055 C1480,1080 1520,1060 1525,1000 L1522,965"/>
<path style="stroke-width:21;stroke:#fff" d="M1020,715 C1040,800 1080,850 1150,860 C1220,870 1280,900 1340,960 L1440,1055 C1480,1080 1520,1060 1525,1000 L1522,960"/>
<path class="w" d="M955,595 L958,665 L1060,665 L1060,595 C1050,570 965,570 955,595 Z"/>
<path d="M958,620 C975,635 1040,635 1060,620 M958,642 C975,657 1040,657 1060,642"/>
<ellipse cx="1008" cy="592" rx="50" ry="20"/><ellipse class="k" cx="1008" cy="596" rx="30" ry="9"/>
<path class="w" d="M930,672 L960,650 L1070,652 L1095,675 L1092,705 L1062,725 L960,720 L935,700 Z"/>
<path d="M960,650 L968,688 L960,720 M968,688 L1052,692 L1062,725 M1052,692 L1070,654"/>
<path class="w" d="M1490,835 L1492,900 L1595,900 L1595,835 C1585,812 1500,812 1490,835 Z"/>
<path d="M1492,858 C1510,872 1575,872 1595,858 M1492,880 C1510,894 1575,894 1595,880"/>
<ellipse cx="1543" cy="832" rx="30" ry="13"/>
<path class="w" d="M1445,905 L1475,882 L1585,885 L1610,908 L1606,945 L1578,968 L1475,962 L1448,940 Z"/>
<path d="M1475,882 L1485,925 L1475,962 M1485,925 L1568,930 L1578,968 M1568,930 L1585,887"/>

</g>
<g transform="translate(1850,2600) scale(0.39586)" font-size="164.2">
<g class="n" transform="translate(477,620) scale(0.18883,0.16420)" font-size="1000"><text x="0">3</text><text x="586">8</text></g>
<path class="t" d="M545,655 L510,785 M398,410 L398,780 M398,830 L398,884 M505,830 L505,884 M752,771 L555,860 L555,884 M745,930 L625,870 L585,940"/>
<ellipse cx="500" cy="805" rx="28" ry="18"/>

</g>
<g transform="translate(1900,500) scale(0.39586)" font-size="164.2">
<!-- armature 3 -->
<path class="w" d="M72,480 C90,430 150,405 208,400 L298,400 C360,405 420,440 430,480 L432,800 C380,890 120,880 72,800 Z"/>
<path class="h" d="M82,490 L84,800 M100,600 L102,840 M112,600 L114,850"/>
<path d="M100,590 C160,620 340,620 410,580 M160,615 L162,868 M185,618 L187,872 M255,622 L256,880 M264,622 L265,880 M345,612 L347,870 M360,608 L362,866 M400,590 L402,845 M412,585 L414,835"/>
<path class="h" d="M255,560 L130,435 M255,560 L165,418 M262,560 L200,410 M270,560 L335,415 M275,560 L375,435 M280,565 L410,470 M250,565 L95,480 M120,470 L150,580 M390,470 L370,590 M300,430 L300,560 M320,430 L330,580"/>
<path style="stroke-width:8" d="M150,425 L235,555 M180,412 L245,550 M345,412 L280,555 M365,425 L290,560 M110,455 L225,565 M400,455 L300,565 M95,500 L95,590 M405,500 L405,585 M135,440 L135,600 M380,440 L378,598 M230,420 L250,540 M320,420 L285,540"/>
<path class="w" d="M208,490 L208,315 C215,285 290,285 298,315 L298,490 C280,510 225,510 208,490 Z"/>
<path d="M210,322 C230,348 280,348 298,322"/>
<path class="w" d="M160,868 L160,1000 L175,1040 L335,1040 L352,1000 L350,862 C300,890 210,890 160,868 Z"/>
<path d="M160,985 C210,1010 300,1010 352,985 M185,900 L185,990 M215,905 L215,1000 M245,910 L245,1005 M275,910 L275,1005 M305,905 L305,1000 M330,898 L330,990"/>
<path class="h" d="M180,930 L200,945 L200,970 M230,925 L245,950 L262,925 M290,930 L300,960"/>
<path class="w" d="M213,1040 L213,1135 L225,1140 L225,1175 L268,1185 L270,1145 L300,1135 L300,1040 Z"/>
<path d="M225,1140 L270,1145"/>
<g class="n" transform="translate(627,305) scale(0.18883,0.16420)" font-size="1000"><text x="0">3</text></g>
<path class="t" d="M615,310 L420,455"/>
<!-- screw 11 upper -->
<path class="w" d="M555,590 L555,680 C565,698 602,698 612,680 L612,590 Z"/>
<path d="M555,615 L612,610 M555,640 L612,635 M555,665 L612,660"/>
<ellipse class="w" cx="582" cy="568" rx="68" ry="30"/>
<ellipse class="w" cx="582" cy="555" rx="68" ry="30"/>
<path class="w" d="M535,500 C535,450 635,450 635,500 L635,540 C620,565 550,565 535,540 Z"/>
<path d="M535,505 C555,530 615,530 635,505 M570,480 L600,496 M598,478 L572,498"/>
<path class="t" d="M655,545 L960,515 M598,700 L598,850"/>
<g class="n" transform="translate(938,565) scale(0.18883,0.16420)" font-size="1000"><g transform="translate(0,0)"><text clip-path="url(#c1)">1</text></g><g transform="translate(586,0)"><text clip-path="url(#c1)">1</text></g></g>
<!-- brush assy 5 -->
<path class="w" d="M650,755 L715,760 L718,850 L650,850 Z"/><circle cx="680" cy="797" r="10"/>
<path d="M532,870 L532,890 C545,915 615,915 628,890 L628,872"/>
<ellipse class="w" cx="580" cy="870" rx="48" ry="25"/><ellipse cx="580" cy="866" rx="20" ry="10"/>
<path d="M622,850 L745,870 M628,885 L740,900"/>
<path class="w" d="M745,815 L800,820 L805,865 L825,870 L822,905 L750,908 Z"/>
<path d="M765,812 C790,760 860,765 900,815 C950,875 985,940 978,990 M790,840 C810,800 850,800 880,840 C915,885 945,940 945,990"/>
<path d="M800,790 L815,815 M835,775 L845,805 M870,785 L868,815 M900,815 L885,840 M925,850 L905,870 M945,885 L925,905 M962,925 L940,940 M972,960 L948,968"/>
<path class="w" d="M875,975 L1000,975 L1002,1085 L877,1085 Z"/>
<path d="M877,1020 L1000,1018"/>
<ellipse class="w" cx="960" cy="990" rx="18" ry="12"/>
<g class="n" transform="translate(1172,765) scale(0.18883,0.16420)" font-size="1000"><text x="0">5</text></g>
<path class="t" d="M1170,700 L925,810 M598,935 L598,1080 L250,1290 L250,1375"/>
<!-- screw 11 lower -->
<path class="w" d="M875,1260 L875,1365 C885,1383 925,1383 935,1365 L935,1260 Z"/>
<path d="M875,1290 L935,1285 M875,1315 L935,1310 M875,1340 L935,1335"/>
<ellipse class="w" cx="900" cy="1238" rx="68" ry="30"/>
<ellipse class="w" cx="900" cy="1225" rx="68" ry="30"/>
<path class="w" d="M855,1175 C855,1130 950,1130 950,1175 L950,1212 C935,1235 870,1235 855,1212 Z"/>
<path d="M855,1180 C875,1205 930,1205 950,1180 M890,1158 L920,1174 M918,1156 L892,1176"/>
<path class="t" d="M970,1235 L1290,1160 M905,1400 L905,1495 L350,1495"/>
<g class="n" transform="translate(1263,1230) scale(0.18883,0.16420)" font-size="1000"><g transform="translate(0,0)"><text clip-path="url(#c1)">1</text></g><g transform="translate(586,0)"><text clip-path="url(#c1)">1</text></g></g>

</g>
<g transform="translate(2150,1100) scale(0.18270)" font-size="355.8">
<!-- harness upper -->
<path d="M105,1290 L105,1000 C110,900 170,850 250,810 L540,660 C580,690 590,740 585,775 L340,920 C290,950 250,980 245,1050 L260,1280 L135,1320 Z"/>
<path d="M110,1280 C140,1250 180,1250 230,1265"/>
<path d="M565,670 L1005,355 M600,730 L1060,465 M605,755 L725,698 L720,1080 C725,1140 790,1150 820,1130 L1000,1030 M790,620 L810,1020 L985,935"/>
<path class="w" d="M1005,345 L1190,240 C1240,235 1262,300 1250,360 L1075,475 Z"/>
<path style="stroke-width:9" d="M1035,335 C1085,360 1100,420 1090,465"/>
<ellipse class="w" cx="1340" cy="215" rx="92" ry="130" transform="rotate(25 1340 215)"/>
<ellipse class="k" cx="1362" cy="208" rx="48" ry="70" transform="rotate(25 1362 208)"/>
<ellipse class="w" cx="1345" cy="205" rx="9" ry="18" transform="rotate(25 1345 205)" stroke="none"/>
<path d="M1265,250 C1240,200 1260,140 1300,105"/>
<path class="w" d="M975,905 L1150,800 C1200,795 1225,860 1215,915 L1045,1030 Z"/>
<path d="M1005,895 C1050,920 1065,980 1058,1025 M1025,885 C1070,910 1085,970 1078,1012"/>
<ellipse class="w" cx="1298" cy="765" rx="88" ry="122" transform="rotate(25 1298 765)"/>
<ellipse class="k" cx="1305" cy="775" rx="45" ry="64" transform="rotate(25 1305 775)"/>
<ellipse class="w" cx="1290" cy="775" rx="7" ry="14" transform="rotate(25 1290 775)" stroke="none"/>

</g>
<g transform="translate(2150,2550) scale(0.39586)" font-size="164.2">
<path class="t" d="M190,387 L85,530 M40,655 L40,880 L-5,897 M1583,261 L1135,1150 M1125,790 L1300,830 M1105,962 L1215,990 M1005,1120 L1135,1150 M840,372 L1480,570 M640,658 L855,715 M555,805 L840,890 M375,975 L735,1055 M290,1000 L205,1170 L40,1085 M15,1073 L-5,1063"/>
<g class="n" transform="translate(1502,645) scale(0.18883,0.16420)" font-size="1000"><text x="0">6</text><text x="586">4</text></g>
<g class="n" transform="translate(902,775) scale(0.18883,0.16420)" font-size="1000"><text x="0">6</text><text x="586">7</text></g>
<g class="n" transform="translate(862,975) scale(0.18883,0.16420)" font-size="1000"><text x="0">6</text><text x="586">5</text></g>
<g class="n" transform="translate(752,1135) scale(0.18883,0.16420)" font-size="1000"><text x="0">6</text><text x="586">6</text></g>
<!-- 44 right -->
<path class="w" d="M0,395 C0,355 90,355 90,395 C90,420 70,435 50,440 L38,468 L30,440 C10,435 0,420 0,395 Z"/>
<path class="h" d="M15,380 L45,398 L78,378 M45,398 L42,432"/>
<circle cx="28" cy="392" r="8"/><circle cx="62" cy="392" r="8"/><circle cx="45" cy="418" r="8"/>
<!-- 46 right -->
<path class="w" d="M15,585 L15,615 C25,640 65,640 75,615 L75,585 Z"/>
<path class="k" d="M5,560 C5,525 100,525 100,565 C100,598 5,598 5,560 Z"/>
<path stroke="#fff" style="stroke-width:2" d="M30,548 L34,572 M55,543 L55,575 M76,550 L73,572"/>
<!-- cap 64 -->
<path class="w" d="M480,300 C450,350 455,400 470,430 L600,520 C640,545 690,545 715,525 L790,430 L830,370 Z"/>
<path d="M475,340 C560,340 700,400 785,440 M495,405 C560,415 640,460 675,500"/>
<ellipse class="k" cx="575" cy="488" rx="14" ry="7" transform="rotate(27 575 488)"/>
<g transform="rotate(27 670 292)">
<path class="w" d="M485,292 L485,340 C500,405 840,405 855,340 L855,292 Z"/>
<path d="M485,316 C500,380 840,380 855,316"/>
<ellipse class="w" cx="670" cy="292" rx="185" ry="62"/>
</g>
<!-- 67 -->
<g transform="rotate(30 505 603)">
<path class="w" d="M360,603 L360,625 C375,690 635,690 650,625 L650,603 Z"/>
<ellipse class="w" cx="505" cy="603" rx="145" ry="55"/>
<ellipse cx="508" cy="612" rx="105" ry="36"/><ellipse cx="510" cy="618" rx="85" ry="26"/>
<path class="h" d="M420,620 C450,650 570,650 600,620"/>
</g>
<ellipse cx="432" cy="752" rx="135" ry="42" transform="rotate(30 432 752)"/>
<!-- screw 66 -->
<g transform="rotate(20 330 900)">
<path class="w" d="M300,830 L300,960 L360,960 L360,830 C350,812 310,812 300,830 Z"/>
<path d="M300,850 L360,845 M300,868 L360,863 M300,886 L360,881 M300,904 L360,899 M300,922 L360,917 M300,940 L360,935"/>
<path d="M265,975 L265,990 C280,1020 380,1020 395,990 L395,975"/>
<ellipse class="w" cx="330" cy="972" rx="65" ry="26"/>
</g>

</g>
<g transform="translate(2250,1000) scale(0.39586)" font-size="164.2">
<g class="n" transform="translate(432,728) scale(0.18883,0.16420)" font-size="1000"><text x="0">9</text></g>
<g class="n" transform="translate(747,722) scale(0.18883,0.16420)" font-size="1000"><text x="0">8</text></g>
<path class="t" d="M500,768 L322,1020 M785,762 L600,995 M375,1055 L440,1055 M535,1168 L535,1275 L130,1275"/>
<ellipse cx="232" cy="1060" rx="12" ry="42"/><ellipse cx="258" cy="1060" rx="12" ry="42"/><ellipse cx="284" cy="1060" rx="12" ry="42"/><ellipse cx="310" cy="1060" rx="12" ry="42"/><ellipse cx="334" cy="1058" rx="12" ry="42"/><ellipse cx="358" cy="1056" rx="13" ry="40"/>
<path d="M440,993 L615,993 L617,1137 L442,1137 Z M440,1052 L615,1052 M590,996 L590,1052"/>

</g>
<g transform="translate(2250,1500) scale(0.39586)" font-size="164.2">
<g class="n" transform="translate(-52,505) scale(0.18883,0.16420)" font-size="1000"><g transform="translate(0,0)"><text clip-path="url(#c1)">1</text></g><text x="586">2</text></g>
<!-- bolt 35 right -->
<path class="w" d="M512,820 L512,930 C522,950 565,950 575,930 L575,820 Z"/>
<path d="M512,850 L575,846 M512,878 L575,874 M512,906 L575,902 M530,815 L535,840 M555,815 L552,840"/>
<path class="w" d="M477,745 C477,695 595,695 595,745 L593,805 L565,825 L510,825 L480,808 Z"/>
<path d="M478,750 C500,785 575,785 594,750 M505,778 L505,822 M568,778 L568,822 M480,800 L593,798"/>
<path class="t" d="M600,798 L905,773 M548,980 L548,1155 L-5,842"/>
<g class="n" transform="translate(897,848) scale(0.18883,0.16420)" font-size="1000"><text x="0">3</text><text x="586">5</text></g>

</g>
<g transform="translate(2250,3050) scale(0.39586)" font-size="164.2">
<g class="n" transform="translate(677,940) scale(0.18883,0.16420)" font-size="1000"><text x="0">4</text><text x="586">0</text></g>
<g class="n" transform="translate(522,1105) scale(0.18883,0.16420)" font-size="1000"><text x="0">4</text><g transform="translate(586,0)"><text clip-path="url(#c1)">1</text></g></g>
<g class="n" transform="translate(1077,1245) scale(0.18883,0.16420)" font-size="1000"><text x="0">3</text><text x="586">9</text></g>
<g class="n" transform="translate(652,1385) scale(0.18883,0.16420)" font-size="1000"><text x="0">4</text><text x="586">2</text></g>
<g class="n" transform="translate(407,1480) scale(0.18883,0.16420)" font-size="1000"><text x="0">3</text><text x="586">7</text></g>
<path class="t" d="M580,770 L685,845 M462,828 L655,975 M830,650 L1115,950 L840,1120 L755,1055 M855,965 L960,1040 M990,1030 L1090,1100 M275,955 L650,1265 M100,1045 L395,1340"/>
<!-- valve 39 right -->
<g transform="rotate(-25 750 605)">
<path class="w" d="M640,540 L860,540 C890,560 890,650 860,670 L640,670 Z"/>
<path class="h" d="M790,540 C815,565 815,645 790,670 M815,540 C840,565 840,645 815,670 M838,542 C862,565 862,645 838,668 M765,540 C790,565 790,645 765,670"/>
<path d="M690,540 C712,565 712,645 690,670 M710,540 C732,565 732,645 710,670 M735,540 C757,565 757,645 735,670"/>
<ellipse class="w" cx="640" cy="605" rx="35" ry="65"/><ellipse cx="640" cy="605" rx="22" ry="45"/><ellipse cx="640" cy="605" rx="10" ry="22"/>
<ellipse cx="735" cy="558" rx="14" ry="9"/>
</g>
<ellipse cx="545" cy="730" rx="36" ry="56" transform="rotate(-18 545 730)"/>
<ellipse cx="438" cy="793" rx="29" ry="43" transform="rotate(-18 438 793)"/>
<!-- valve 42 -->
<g transform="rotate(-27 240 900)">
<path class="w" d="M110,870 L175,870 L175,835 L300,835 L300,870 L380,870 C392,880 392,920 380,930 L300,930 L300,965 L175,965 L175,930 L110,930 C98,920 98,880 110,870 Z"/>
<path class="h" d="M200,835 C215,860 215,940 200,965 M225,835 C240,860 240,940 225,965 M250,835 C265,860 265,940 250,965 M275,835 C290,860 290,940 275,965"/>
<ellipse cx="112" cy="900" rx="12" ry="30"/>
</g>
<ellipse cx="65" cy="1005" rx="34" ry="52" transform="rotate(-20 65 1005)"/>
<path class="t" d="M3,1047 L53,1017"/>

</g>
<g transform="translate(2250,3450) scale(0.39586)" font-size="164.2">
<g class="n" transform="translate(797,1505) scale(0.18883,0.16420)" font-size="1000"><text x="0">3</text><text x="586">3</text></g>
<path class="t" d="M470,1438 L790,1440"/>

</g>
<g transform="translate(2350,2000) scale(0.39586)" font-size="164.2">
<g class="n" transform="translate(262,368) scale(0.18883,0.16420)" font-size="1000"><text x="0">7</text><text x="586">5</text></g>
<g class="n" transform="translate(267,635) scale(0.18883,0.16420)" font-size="1000"><text x="0">7</text><text x="586">6</text></g>
<g class="n" transform="translate(1127,545) scale(0.18883,0.16420)" font-size="1000"><text x="0">5</text><text x="586">8</text></g>
<g class="n" transform="translate(1072,740) scale(0.18883,0.16420)" font-size="1000"><text x="0">5</text><text x="586">9</text></g>
<g class="n" transform="translate(952,930) scale(0.18883,0.16420)" font-size="1000"><text x="0">6</text><text x="586">0</text></g>
<path class="t" d="M255,310 L80,380 M255,590 L80,655 M1160,400 L1085,290 M1075,635 L1000,540 M950,810 L885,720 M545,1140 L1170,1475 L1078,1650"/>
<!-- 58 -->
<g transform="rotate(30 970 200)">
<path class="w" d="M825,200 L825,225 C835,290 1105,290 1115,225 L1115,200 Z"/>
<ellipse class="w" cx="970" cy="200" rx="145" ry="58"/>
<ellipse cx="972" cy="212" rx="100" ry="34"/><path d="M880,205 C900,180 1040,180 1065,205"/>
</g>
<!-- 60 -->
<ellipse cx="750" cy="617" rx="190" ry="52" transform="rotate(31 750 617)"/>
<!-- rod 64 -->
<path class="w" d="M610,705 C615,690 640,692 650,698 L735,745 C745,755 746,765 742,772 L360,1470 L335,1492 L305,1570 C280,1592 200,1560 195,1520 L240,1440 L235,1395 Z"/>
<path d="M238,1400 C270,1425 320,1450 358,1470 M242,1440 C270,1462 310,1480 335,1490"/>
<ellipse cx="250" cy="1538" rx="25" ry="13" transform="rotate(25 250 1538)"/>

</g>
<g transform="translate(2580,2020) scale(0.15225)" font-size="426.9">
<!-- cap 59 seen from below -->
<g style="stroke-width:3.3">
<path class="w" d="M240,560 C300,470 520,470 800,600 C1000,690 1180,820 1250,900 C1330,990 1320,1110 1250,1170 L1120,1190 L1040,1380 C1010,1410 960,1425 900,1420 C600,1380 300,1180 230,1070 C190,1040 170,1000 175,960 L262,752 C215,690 205,620 240,560 Z"/>
<path d="M255,640 C330,560 560,590 800,700 C1000,790 1180,930 1240,1010 C1275,1060 1275,1120 1250,1165"/>
<path d="M330,740 C420,670 700,760 900,900 C1020,990 1100,1090 1115,1180 M300,800 C400,730 680,810 880,950 C1000,1040 1080,1130 1090,1230 M265,860 C370,790 650,870 850,1000 C980,1090 1050,1170 1075,1270 M235,920 C340,850 620,930 820,1060 C950,1140 1030,1220 1055,1320 M205,980 C300,920 600,990 800,1110 C920,1180 1010,1270 1035,1370"/>
<ellipse cx="590" cy="1190" rx="365" ry="112" transform="rotate(24 590 1190)"/>
<ellipse class="k" cx="575" cy="1215" rx="245" ry="72" transform="rotate(24 575 1215)"/>
<ellipse class="w" cx="555" cy="1225" rx="120" ry="28" transform="rotate(24 555 1225)" stroke="none"/>
<path d="M270,1030 L340,1115 L370,1050 M800,1360 L830,1290 L900,1340"/>
</g>
<path style="stroke-width:9" d="M400,500 C600,510 900,640 1100,790 C1200,870 1270,960 1290,1040"/>

</g>
<text y="2430" x="296 576 699 911 1209 1325 1516 1700 1814 2139 2359 2490 2578 2796" font-family="Liberation Sans,sans-serif" font-size="396" fill="#000" fill-opacity="0.078" stroke="none">Crowley Marine</text>
</g>
</svg></body></html>
